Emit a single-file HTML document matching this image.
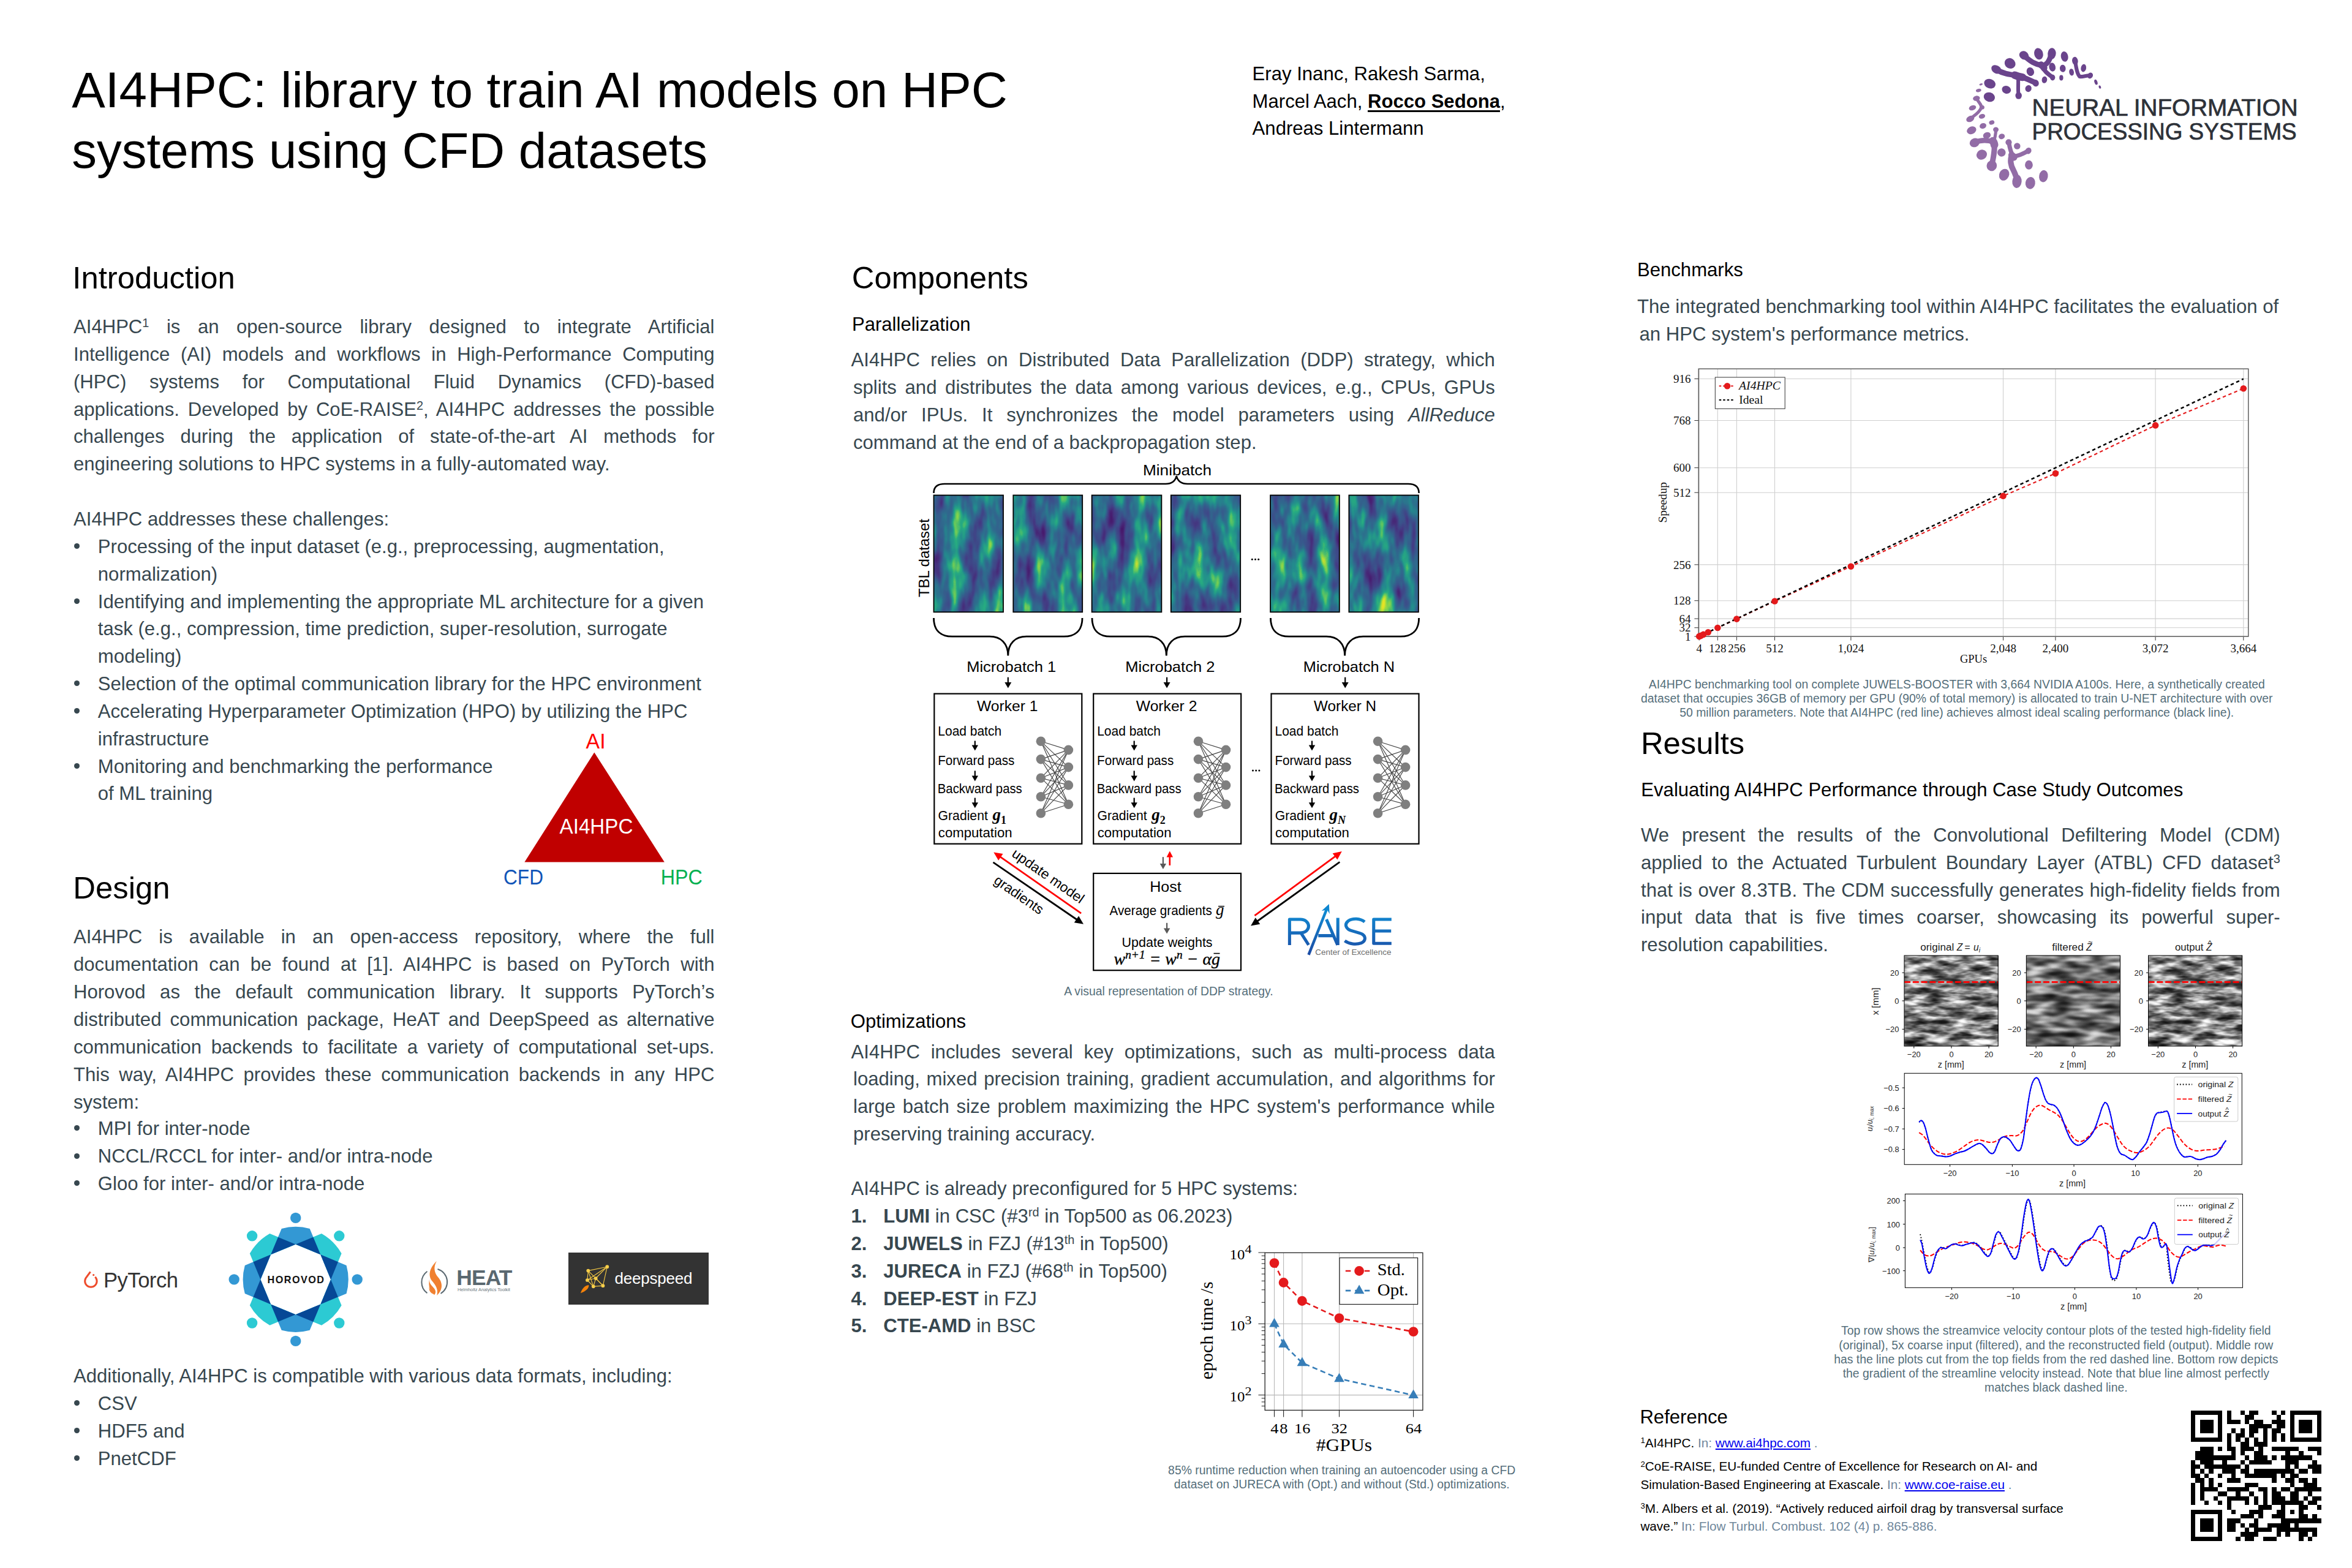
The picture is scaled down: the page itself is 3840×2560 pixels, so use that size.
<!DOCTYPE html>
<html><head><meta charset="utf-8"><title>AI4HPC poster</title>
<style>
html,body{margin:0;padding:0;background:#fff;}
body{width:3840px;height:2560px;position:relative;overflow:hidden;font-family:"Liberation Sans",sans-serif;}
body>div,body>svg{position:absolute;white-space:nowrap;}
body>svg{overflow:visible;}
sup{font-size:64%;vertical-align:baseline;position:relative;top:-0.48em;line-height:0;}
b{font-weight:bold;}
</style></head><body>
<div style="left:117.3px;top:97.9px;font-size:81.8px;line-height:98.16px;color:#000;">AI4HPC: library to train AI models on HPC</div>
<div style="left:117.3px;top:196.5px;font-size:81.55px;line-height:97.86px;color:#000;">systems using CFD datasets</div>
<div style="left:2044.6px;top:101.5px;font-size:31.1px;line-height:37.32px;color:#000;">Eray Inanc, Rakesh Sarma,</div>
<div style="left:2044.6px;top:146.5px;font-size:31.1px;line-height:37.32px;color:#000;">Marcel Aach, <b style="text-decoration:underline;text-decoration-thickness:3px;text-underline-offset:3.5px">Rocco Sedona</b>,</div>
<div style="left:2044.6px;top:191.3px;font-size:31.1px;line-height:37.32px;color:#000;">Andreas Lintermann</div>
<div style="left:118.3px;top:424.0px;font-size:50.8px;line-height:60.96px;color:#000;">Introduction</div>
<div style="left:120.0px;top:515.0px;font-size:31.1px;line-height:37.32px;color:#37474f;width:1046.5px;text-align:justify;text-align-last:justify;white-space:normal;">AI4HPC<sup>1</sup> is an open-source library designed to integrate Artificial</div>
<div style="left:120.0px;top:559.8px;font-size:31.1px;line-height:37.32px;color:#37474f;width:1046.5px;text-align:justify;text-align-last:justify;white-space:normal;">Intelligence (AI) models and workflows in High-Performance Computing</div>
<div style="left:120.0px;top:604.7px;font-size:31.1px;line-height:37.32px;color:#37474f;width:1046.5px;text-align:justify;text-align-last:justify;white-space:normal;">(HPC) systems for Computational Fluid Dynamics (CFD)-based</div>
<div style="left:120.0px;top:649.5px;font-size:31.1px;line-height:37.32px;color:#37474f;width:1046.5px;text-align:justify;text-align-last:justify;white-space:normal;">applications. Developed by CoE-RAISE<sup>2</sup>, AI4HPC addresses the possible</div>
<div style="left:120.0px;top:694.4px;font-size:31.1px;line-height:37.32px;color:#37474f;width:1046.5px;text-align:justify;text-align-last:justify;white-space:normal;">challenges during the application of state-of-the-art AI methods for</div>
<div style="left:120.0px;top:739.2px;font-size:31.1px;line-height:37.32px;color:#37474f;">engineering solutions to HPC systems in a fully-automated way.</div>
<div style="left:120.0px;top:828.9px;font-size:31.1px;line-height:37.32px;color:#37474f;">AI4HPC addresses these challenges:</div>
<div style="left:121.4px;top:887.2px;width:9.1px;height:9.1px;border-radius:50%;background:#37474f"></div>
<div style="left:159.8px;top:873.8px;font-size:31.1px;line-height:37.32px;color:#37474f;">Processing of the input dataset (e.g., preprocessing, augmentation,</div>
<div style="left:159.8px;top:918.6px;font-size:31.1px;line-height:37.32px;color:#37474f;">normalization)</div>
<div style="left:121.4px;top:976.9px;width:9.1px;height:9.1px;border-radius:50%;background:#37474f"></div>
<div style="left:159.8px;top:963.5px;font-size:31.1px;line-height:37.32px;color:#37474f;">Identifying and implementing the appropriate ML architecture for a given</div>
<div style="left:159.8px;top:1008.3px;font-size:31.1px;line-height:37.32px;color:#37474f;">task (e.g., compression, time prediction, super-resolution, surrogate</div>
<div style="left:159.8px;top:1053.2px;font-size:31.1px;line-height:37.32px;color:#37474f;">modeling)</div>
<div style="left:121.4px;top:1111.4px;width:9.1px;height:9.1px;border-radius:50%;background:#37474f"></div>
<div style="left:159.8px;top:1098.0px;font-size:31.1px;line-height:37.32px;color:#37474f;">Selection of the optimal communication library for the HPC environment</div>
<div style="left:121.4px;top:1156.2px;width:9.1px;height:9.1px;border-radius:50%;background:#37474f"></div>
<div style="left:159.8px;top:1142.9px;font-size:31.1px;line-height:37.32px;color:#37474f;">Accelerating Hyperparameter Optimization (HPO) by utilizing the HPC</div>
<div style="left:159.8px;top:1187.7px;font-size:31.1px;line-height:37.32px;color:#37474f;">infrastructure</div>
<div style="left:121.4px;top:1246.0px;width:9.1px;height:9.1px;border-radius:50%;background:#37474f"></div>
<div style="left:159.8px;top:1232.6px;font-size:31.1px;line-height:37.32px;color:#37474f;">Monitoring and benchmarking the performance</div>
<div style="left:159.8px;top:1277.4px;font-size:31.1px;line-height:37.32px;color:#37474f;">of ML training</div>
<svg style="left:800px;top:1180px" width="380" height="290" viewBox="800 1180 380 290" font-family="Liberation Sans, sans-serif" font-size="35.2"><polygon points="970.3,1228.4 856.4,1407.4 1084.8,1407.4" fill="#c00000"/><text x="956.6" y="1222.2" fill="#ff0000" textLength="32" lengthAdjust="spacingAndGlyphs">AI</text><text x="913.5" y="1360.8" fill="#fff" textLength="120" lengthAdjust="spacingAndGlyphs">AI4HPC</text><text x="822.0" y="1444.1" fill="#1155b8" textLength="65" lengthAdjust="spacingAndGlyphs">CFD</text><text x="1078.7" y="1444.1" fill="#00b050" textLength="68.2" lengthAdjust="spacingAndGlyphs">HPC</text></svg>
<div style="left:119.3px;top:1419.8px;font-size:50.8px;line-height:60.96px;color:#000;">Design</div>
<div style="left:120.0px;top:1511.2px;font-size:31.1px;line-height:37.32px;color:#37474f;width:1046.5px;text-align:justify;text-align-last:justify;white-space:normal;">AI4HPC is available in an open-access repository, where the full</div>
<div style="left:120.0px;top:1556.1px;font-size:31.1px;line-height:37.32px;color:#37474f;width:1046.5px;text-align:justify;text-align-last:justify;white-space:normal;">documentation can be found at [1]. AI4HPC is based on PyTorch with</div>
<div style="left:120.0px;top:1601.0px;font-size:31.1px;line-height:37.32px;color:#37474f;width:1046.5px;text-align:justify;text-align-last:justify;white-space:normal;">Horovod as the default communication library. It supports PyTorch&rsquo;s</div>
<div style="left:120.0px;top:1645.9px;font-size:31.1px;line-height:37.32px;color:#37474f;width:1046.5px;text-align:justify;text-align-last:justify;white-space:normal;">distributed communication package, HeAT and DeepSpeed as alternative</div>
<div style="left:120.0px;top:1690.8px;font-size:31.1px;line-height:37.32px;color:#37474f;width:1046.5px;text-align:justify;text-align-last:justify;white-space:normal;">communication backends to facilitate a variety of computational set-ups.</div>
<div style="left:120.0px;top:1735.7px;font-size:31.1px;line-height:37.32px;color:#37474f;width:1046.5px;text-align:justify;text-align-last:justify;white-space:normal;">This way, AI4HPC provides these communication backends in any HPC</div>
<div style="left:120.0px;top:1780.6px;font-size:31.1px;line-height:37.32px;color:#37474f;">system:</div>
<div style="left:121.4px;top:1837.4px;width:9.1px;height:9.1px;border-radius:50%;background:#37474f"></div>
<div style="left:159.8px;top:1824.0px;font-size:31.1px;line-height:37.32px;color:#37474f;">MPI for inter-node</div>
<div style="left:121.4px;top:1882.5px;width:9.1px;height:9.1px;border-radius:50%;background:#37474f"></div>
<div style="left:159.8px;top:1869.1px;font-size:31.1px;line-height:37.32px;color:#37474f;">NCCL/RCCL for inter- and/or intra-node</div>
<div style="left:121.4px;top:1927.4px;width:9.1px;height:9.1px;border-radius:50%;background:#37474f"></div>
<div style="left:159.8px;top:1914.0px;font-size:31.1px;line-height:37.32px;color:#37474f;">Gloo for inter- and/or intra-node</div>
<div style="left:120.0px;top:2227.9px;font-size:31.1px;line-height:37.32px;color:#37474f;">Additionally, AI4HPC is compatible with various data formats, including:</div>
<div style="left:121.4px;top:2286.2px;width:9.1px;height:9.1px;border-radius:50%;background:#37474f"></div>
<div style="left:159.8px;top:2272.9px;font-size:31.1px;line-height:37.32px;color:#37474f;">CSV</div>
<div style="left:121.4px;top:2331.2px;width:9.1px;height:9.1px;border-radius:50%;background:#37474f"></div>
<div style="left:159.8px;top:2317.9px;font-size:31.1px;line-height:37.32px;color:#37474f;">HDF5 and</div>
<div style="left:121.4px;top:2376.2px;width:9.1px;height:9.1px;border-radius:50%;background:#37474f"></div>
<div style="left:159.8px;top:2362.9px;font-size:31.1px;line-height:37.32px;color:#37474f;">PnetCDF</div>
<svg style="left:3200px;top:70px" width="240" height="250" viewBox="0 0 1505 1568"><g fill="#6a448c" stroke="#6a448c"><ellipse cx="805" cy="112" rx="45" ry="60" transform="rotate(-15 805 112)" stroke="none"/><ellipse cx="1070" cy="140" rx="37" ry="53" transform="rotate(-10 1070 140)" stroke="none"/><ellipse cx="512" cy="210" rx="58" ry="52" transform="rotate(35 512 210)" stroke="none"/><ellipse cx="945" cy="248" rx="33" ry="45" transform="rotate(-10 945 248)" stroke="none"/><ellipse cx="1052" cy="262" rx="30" ry="38" transform="rotate(-5 1052 262)" stroke="none"/><ellipse cx="1265" cy="258" rx="27" ry="40" transform="rotate(10 1265 258)" stroke="none"/><ellipse cx="1142" cy="300" rx="24" ry="36" transform="rotate(-10 1142 300)" stroke="none"/><ellipse cx="720" cy="295" rx="38" ry="45" transform="rotate(-20 720 295)" stroke="none"/><ellipse cx="1037" cy="358" rx="20" ry="28" transform="rotate(0 1037 358)" stroke="none"/><ellipse cx="865" cy="378" rx="27" ry="35" transform="rotate(10 865 378)" stroke="none"/><ellipse cx="305" cy="418" rx="60" ry="48" transform="rotate(20 305 418)" stroke="none"/><ellipse cx="700" cy="468" rx="32" ry="35" transform="rotate(20 700 468)" stroke="none"/><ellipse cx="475" cy="480" rx="47" ry="40" transform="rotate(20 475 480)" stroke="none"/><ellipse cx="300" cy="555" rx="58" ry="48" transform="rotate(15 300 555)" stroke="none"/><ellipse cx="1392" cy="402" rx="15" ry="28" transform="rotate(-20 1392 402)" stroke="none"/><ellipse cx="1432" cy="452" rx="11" ry="17" transform="rotate(-20 1432 452)" stroke="none"/><ellipse cx="655" cy="128" rx="50" ry="42" transform="rotate(30 655 128)" stroke="none"/><ellipse cx="940" cy="110" rx="42" ry="58" transform="rotate(5 940 110)" stroke="none"/><ellipse cx="948" cy="355" rx="26" ry="30" transform="rotate(0 948 355)" stroke="none"/><ellipse cx="372" cy="272" rx="55" ry="40" transform="rotate(30 372 272)" stroke="none"/><ellipse cx="775" cy="412" rx="32" ry="36" transform="rotate(-20 775 412)" stroke="none"/><ellipse cx="600" cy="540" rx="33" ry="36" transform="rotate(0 600 540)" stroke="none"/><ellipse cx="1178" cy="185" rx="30" ry="42" transform="rotate(-10 1178 185)" stroke="none"/><ellipse cx="1333" cy="335" rx="27" ry="32" transform="rotate(30 1333 335)" stroke="none"/><path d="M655,130 C720,190 760,215 840,230 C900,230 915,170 935,120" fill="none" stroke-width="54" stroke-linecap="round"/><path d="M840,235 C860,290 900,320 945,350" fill="none" stroke-width="44" stroke-linecap="round"/><path d="M375,275 C450,320 520,325 590,335 C650,350 720,385 775,410" fill="none" stroke-width="56" stroke-linecap="round"/><path d="M595,345 C600,420 590,480 600,540" fill="none" stroke-width="38" stroke-linecap="round"/><path d="M1180,190 C1190,260 1200,320 1225,345 C1260,350 1300,330 1335,335" fill="none" stroke-width="38" stroke-linecap="round"/><path d="M560,330 C590,345 620,350 640,352" fill="none" stroke-width="78" stroke-linecap="round"/><path d="M830,225 C845,235 855,245 860,255" fill="none" stroke-width="70" stroke-linecap="round"/></g><g fill="#926ca6" stroke="#926ca6"><ellipse cx="215" cy="425" rx="18" ry="10" transform="rotate(-15 215 425)" stroke="none"/><ellipse cx="190" cy="487" rx="28" ry="17" transform="rotate(-15 190 487)" stroke="none"/><ellipse cx="128" cy="665" rx="38" ry="25" transform="rotate(-20 128 665)" stroke="none"/><ellipse cx="225" cy="752" rx="33" ry="24" transform="rotate(-15 225 752)" stroke="none"/><ellipse cx="325" cy="815" rx="28" ry="22" transform="rotate(-20 325 815)" stroke="none"/><ellipse cx="235" cy="850" rx="35" ry="28" transform="rotate(-20 235 850)" stroke="none"/><ellipse cx="118" cy="895" rx="50" ry="38" transform="rotate(-25 118 895)" stroke="none"/><ellipse cx="275" cy="948" rx="40" ry="33" transform="rotate(-20 275 948)" stroke="none"/><ellipse cx="427" cy="958" rx="32" ry="28" transform="rotate(-15 427 958)" stroke="none"/><ellipse cx="585" cy="1057" rx="33" ry="33" transform="rotate(0 585 1057)" stroke="none"/><ellipse cx="425" cy="1123" rx="42" ry="42" transform="rotate(-20 425 1123)" stroke="none"/><ellipse cx="222" cy="1145" rx="55" ry="50" transform="rotate(-35 222 1145)" stroke="none"/><ellipse cx="705" cy="1250" rx="40" ry="47" transform="rotate(0 705 1250)" stroke="none"/><ellipse cx="452" cy="1350" rx="50" ry="62" transform="rotate(25 452 1350)" stroke="none"/><ellipse cx="855" cy="1365" rx="45" ry="62" transform="rotate(10 855 1365)" stroke="none"/><ellipse cx="720" cy="1435" rx="50" ry="62" transform="rotate(10 720 1435)" stroke="none"/><ellipse cx="168" cy="568" rx="36" ry="26" transform="rotate(-10 168 568)" stroke="none"/><ellipse cx="105" cy="778" rx="43" ry="30" transform="rotate(-25 105 778)" stroke="none"/><ellipse cx="225" cy="660" rx="25" ry="22" transform="rotate(0 225 660)" stroke="none"/><ellipse cx="150" cy="1022" rx="52" ry="45" transform="rotate(-25 150 1022)" stroke="none"/><ellipse cx="367" cy="888" rx="28" ry="26" transform="rotate(0 367 888)" stroke="none"/><ellipse cx="325" cy="1258" rx="52" ry="55" transform="rotate(20 325 1258)" stroke="none"/><ellipse cx="498" cy="1018" rx="32" ry="32" transform="rotate(0 498 1018)" stroke="none"/><ellipse cx="700" cy="1105" rx="30" ry="34" transform="rotate(30 700 1105)" stroke="none"/><ellipse cx="583" cy="1418" rx="48" ry="68" transform="rotate(5 583 1418)" stroke="none"/><path d="M170,570 C190,610 230,640 215,670 C190,720 150,740 108,775" fill="none" stroke-width="32" stroke-linecap="round"/><path d="M150,1020 C230,985 300,1000 345,1015" fill="none" stroke-width="52" stroke-linecap="round"/><path d="M345,1015 C360,970 365,930 368,890" fill="none" stroke-width="32" stroke-linecap="round"/><path d="M345,1015 C365,1080 340,1180 325,1255" fill="none" stroke-width="56" stroke-linecap="round"/><path d="M500,1020 C510,1080 520,1130 545,1160 C600,1165 660,1125 700,1105" fill="none" stroke-width="44" stroke-linecap="round"/><path d="M530,1150 C510,1200 520,1260 545,1300 C565,1340 580,1380 585,1420" fill="none" stroke-width="58" stroke-linecap="round"/><path d="M335,1005 C345,1015 350,1030 352,1045" fill="none" stroke-width="80" stroke-linecap="round"/><path d="M530,1150 C540,1158 548,1165 552,1172" fill="none" stroke-width="70" stroke-linecap="round"/></g></svg>
<svg style="left:3300px;top:150px" width="480" height="90" viewBox="3300 150 480 90" font-family="Liberation Sans, sans-serif" fill="#2d3138" stroke="#2d3138" stroke-width="0.7"><text x="3317.6" y="188.7" font-size="39.6" textLength="434.0" lengthAdjust="spacingAndGlyphs">NEURAL INFORMATION</text><text x="3317.6" y="227.6" font-size="39.6" textLength="432.1" lengthAdjust="spacingAndGlyphs">PROCESSING SYSTEMS</text></svg>
<svg style="left:130px;top:2070px" width="40" height="40" viewBox="130 2070 40 40"><path d="M147.6,2076.3 L141.5,2084.7 A9.75,9.75 0 1 0 155.3,2084.7" fill="none" stroke="#ee4c2c" stroke-width="3.0" stroke-linejoin="miter"/><circle cx="152.7" cy="2081.6" r="1.6" fill="#ee4c2c"/></svg>
<div style="left:169.0px;top:2069.9px;font-size:34.6px;line-height:41.52px;color:#333;letter-spacing:-0.5px;">PyTorch</div>
<svg style="left:370px;top:1976px" width="226" height="226" viewBox="370 1976 226 226"><path d="M459.7,2006.0 A86.0,86.0 0 0 1 505.7,2006.0 L523.3,2048.3 L482.7,2031.5 L442.1,2048.3 Z" fill="#3398d4"/><path d="M525.0,2014.0 A86.0,86.0 0 0 1 557.6,2046.6 L540.1,2088.9 L523.3,2048.3 L482.7,2031.5 Z" fill="#2ccad3"/><path d="M565.6,2065.9 A86.0,86.0 0 0 1 565.6,2111.9 L523.3,2129.5 L540.1,2088.9 L523.3,2048.3 Z" fill="#3398d4"/><path d="M557.6,2131.2 A86.0,86.0 0 0 1 525.0,2163.8 L482.7,2146.3 L523.3,2129.5 L540.1,2088.9 Z" fill="#2ccad3"/><path d="M505.7,2171.8 A86.0,86.0 0 0 1 459.7,2171.8 L442.1,2129.5 L482.7,2146.3 L523.3,2129.5 Z" fill="#3398d4"/><path d="M440.4,2163.8 A86.0,86.0 0 0 1 407.8,2131.2 L425.3,2088.9 L442.1,2129.5 L482.7,2146.3 Z" fill="#2ccad3"/><path d="M399.8,2111.9 A86.0,86.0 0 0 1 399.8,2065.9 L442.1,2048.3 L425.3,2088.9 L442.1,2129.5 Z" fill="#3398d4"/><path d="M407.8,2046.6 A86.0,86.0 0 0 1 440.4,2014.0 L482.7,2031.5 L442.1,2048.3 L425.3,2088.9 Z" fill="#2ccad3"/><polygon points="482.7,2031.5 511.4,2019.7 523.3,2048.3" fill="#064896"/><polygon points="523.3,2048.3 551.9,2060.2 540.1,2088.9" fill="#064896"/><polygon points="540.1,2088.9 551.9,2117.6 523.3,2129.5" fill="#064896"/><polygon points="523.3,2129.5 511.4,2158.1 482.7,2146.3" fill="#064896"/><polygon points="482.7,2146.3 454.0,2158.1 442.1,2129.5" fill="#064896"/><polygon points="442.1,2129.5 413.5,2117.6 425.3,2088.9" fill="#064896"/><polygon points="425.3,2088.9 413.5,2060.2 442.1,2048.3" fill="#064896"/><polygon points="442.1,2048.3 454.0,2019.7 482.7,2031.5" fill="#064896"/><circle cx="482.7" cy="1988.4" r="8.7" fill="#3398d4"/><circle cx="553.8" cy="2017.8" r="8.7" fill="#2ccad3"/><circle cx="583.2" cy="2088.9" r="8.7" fill="#3398d4"/><circle cx="553.8" cy="2160.0" r="8.7" fill="#2ccad3"/><circle cx="482.7" cy="2189.4" r="8.7" fill="#3398d4"/><circle cx="411.6" cy="2160.0" r="8.7" fill="#2ccad3"/><circle cx="382.2" cy="2088.9" r="8.7" fill="#3398d4"/><circle cx="411.6" cy="2017.8" r="8.7" fill="#2ccad3"/></svg>
<div style="left:383.5px;top:2079.9px;font-size:16.2px;line-height:19.44px;color:#111;width:200.0px;text-align:center;font-weight:bold;letter-spacing:1.45px;">HOROVOD</div>
<svg style="left:660px;top:2020px" width="540" height="140" viewBox="0 0 2352 610"><path d="M160,245 A95,95 0 0 0 160,395" fill="none" stroke="#5d6b73" stroke-width="9" stroke-linecap="round"/><path d="M240,228 A95,95 0 0 1 262,398" fill="none" stroke="#5d6b73" stroke-width="9" stroke-linecap="round"/><path d="M230,170 C185,212 163,268 198,312 C226,345 242,372 232,414 C278,372 272,322 242,287 C214,255 204,215 230,170 Z" fill="#f08030"/><path d="M180,292 C172,330 198,345 214,366 C228,386 222,400 214,410 C186,392 166,350 180,292 Z" fill="#f08030"/><path d="M178,350 C176,372 196,384 204,404 C186,396 172,378 178,350 Z" fill="#f08030"/></svg>
<div style="left:745.3px;top:2065.0px;font-size:35.4px;line-height:42.48px;color:#5a6870;font-weight:bold;letter-spacing:-0.9px;">HEAT</div>
<div style="left:747.0px;top:2102.2px;font-size:7.35px;line-height:8.82px;color:#6a767d;letter-spacing:-0.02px;">Helmholtz Analytics Toolkit</div>
<div style="left:928.2px;top:2044.8px;width:228.9px;height:84.9px;background:#333"></div>
<svg style="left:660px;top:2020px" width="540" height="140" viewBox="0 0 2352 610"><line x1="1308" y1="238" x2="1443" y2="210" stroke="#f2c744" stroke-width="5"/><line x1="1308" y1="238" x2="1302" y2="305" stroke="#f2c744" stroke-width="5"/><line x1="1308" y1="238" x2="1345" y2="350" stroke="#f2c744" stroke-width="5"/><line x1="1443" y1="210" x2="1413" y2="345" stroke="#f2c744" stroke-width="5"/><line x1="1443" y1="210" x2="1362" y2="292" stroke="#f2c744" stroke-width="5"/><line x1="1302" y1="305" x2="1362" y2="292" stroke="#f2c744" stroke-width="5"/><line x1="1302" y1="305" x2="1345" y2="350" stroke="#f2c744" stroke-width="5"/><line x1="1345" y1="350" x2="1413" y2="345" stroke="#f2c744" stroke-width="5"/><line x1="1362" y1="292" x2="1345" y2="350" stroke="#f2c744" stroke-width="5"/><line x1="1308" y1="238" x2="1413" y2="345" stroke="#f2c744" stroke-width="5"/><line x1="1362" y1="292" x2="1413" y2="345" stroke="#f2c744" stroke-width="5"/><line x1="1302" y1="305" x2="1443" y2="210" stroke="#f2c744" stroke-width="5"/><circle cx="1308" cy="238" r="12.5" fill="#f7ce4a"/><circle cx="1443" cy="210" r="12.5" fill="#f7ce4a"/><circle cx="1302" cy="305" r="12.5" fill="#f7ce4a"/><circle cx="1362" cy="292" r="12.5" fill="#f7ce4a"/><circle cx="1345" cy="350" r="12.5" fill="#f7ce4a"/><circle cx="1413" cy="345" r="12.5" fill="#f7ce4a"/><path d="M1254,398 C1262,368 1285,342 1312,340 C1316,362 1290,385 1254,398 Z" fill="#f5820a"/></svg>
<div style="left:1003.4px;top:2072.3px;font-size:26.0px;line-height:31.2px;color:#fff;letter-spacing:-0.2px;">deepspeed</div>
<div style="left:1390.8px;top:424.0px;font-size:50.8px;line-height:60.96px;color:#000;">Components</div>
<div style="left:1390.9px;top:510.8px;font-size:31.1px;line-height:37.32px;color:#000;">Parallelization</div>
<div style="left:1389.6px;top:569.4px;font-size:31.1px;line-height:37.32px;color:#37474f;width:1051.2px;text-align:justify;text-align-last:justify;white-space:normal;">AI4HPC relies on Distributed Data Parallelization (DDP) strategy, which</div>
<div style="left:1393.0px;top:614.2px;font-size:31.1px;line-height:37.32px;color:#37474f;width:1047.8px;text-align:justify;text-align-last:justify;white-space:normal;">splits and distributes the data among various devices, e.g., CPUs, GPUs</div>
<div style="left:1393.0px;top:659.1px;font-size:31.1px;line-height:37.32px;color:#37474f;width:1047.8px;text-align:justify;text-align-last:justify;white-space:normal;">and/or IPUs. It synchronizes the model parameters using <i>AllReduce</i></div>
<div style="left:1393.0px;top:704.0px;font-size:31.1px;line-height:37.32px;color:#37474f;">command at the end of a backpropagation step.</div>
<div style="left:1307.9px;top:1606.7px;font-size:19.38px;line-height:23.26px;color:#546e7a;width:1200.0px;text-align:center;">A visual representation of DDP strategy.</div>
<div style="left:1388.8px;top:1649.4px;font-size:31.1px;line-height:37.32px;color:#000;">Optimizations</div>
<div style="left:1389.6px;top:1698.6px;font-size:31.1px;line-height:37.32px;color:#37474f;width:1051.2px;text-align:justify;text-align-last:justify;white-space:normal;">AI4HPC includes several key optimizations, such as multi-process data</div>
<div style="left:1393.0px;top:1743.4px;font-size:31.1px;line-height:37.32px;color:#37474f;width:1047.8px;text-align:justify;text-align-last:justify;white-space:normal;">loading, mixed precision training, gradient accumulation, and algorithms for</div>
<div style="left:1393.0px;top:1788.3px;font-size:31.1px;line-height:37.32px;color:#37474f;width:1047.8px;text-align:justify;text-align-last:justify;white-space:normal;">large batch size problem maximizing the HPC system's performance while</div>
<div style="left:1393.0px;top:1833.2px;font-size:31.1px;line-height:37.32px;color:#37474f;">preserving training accuracy.</div>
<div style="left:1389.6px;top:1922.0px;font-size:31.1px;line-height:37.32px;color:#37474f;">AI4HPC is already preconfigured for 5 HPC systems:</div>
<div style="left:1389.5px;top:1966.8px;font-size:31.1px;line-height:37.32px;color:#37474f;"><b>1.</b></div>
<div style="left:1442.2px;top:1966.8px;font-size:31.1px;line-height:37.32px;color:#37474f;"><b>LUMI</b> in CSC (#3<sup>rd</sup> in Top500 as 06.2023)</div>
<div style="left:1389.5px;top:2011.8px;font-size:31.1px;line-height:37.32px;color:#37474f;"><b>2.</b></div>
<div style="left:1442.2px;top:2011.8px;font-size:31.1px;line-height:37.32px;color:#37474f;"><b>JUWELS</b> in FZJ (#13<sup>th</sup> in Top500)</div>
<div style="left:1389.5px;top:2056.5px;font-size:31.1px;line-height:37.32px;color:#37474f;"><b>3.</b></div>
<div style="left:1442.2px;top:2056.5px;font-size:31.1px;line-height:37.32px;color:#37474f;"><b>JURECA</b> in FZJ (#68<sup>th</sup> in Top500)</div>
<div style="left:1389.5px;top:2101.5px;font-size:31.1px;line-height:37.32px;color:#37474f;"><b>4.</b></div>
<div style="left:1442.2px;top:2101.5px;font-size:31.1px;line-height:37.32px;color:#37474f;"><b>DEEP-EST</b> in FZJ</div>
<div style="left:1389.5px;top:2146.1px;font-size:31.1px;line-height:37.32px;color:#37474f;"><b>5.</b></div>
<div style="left:1442.2px;top:2146.1px;font-size:31.1px;line-height:37.32px;color:#37474f;"><b>CTE-AMD</b> in BSC</div>
<div style="left:1590.7px;top:2389.2px;font-size:19.38px;line-height:23.26px;color:#546e7a;width:1200.0px;text-align:center;">85% runtime reduction when training an autoencoder using a CFD</div>
<div style="left:1590.7px;top:2411.9px;font-size:19.38px;line-height:23.26px;color:#546e7a;width:1200.0px;text-align:center;">dataset on JURECA with (Opt.) and without (Std.) optimizations.</div>
<svg style="left:1480px;top:740px" width="880" height="880" viewBox="1480 740 880 880" font-family="Liberation Sans, sans-serif" fill="#000"><defs><filter id="vir0" x="0" y="0" width="1" height="1" color-interpolation-filters="sRGB"><feTurbulence type="fractalNoise" baseFrequency="0.04 0.0145" numOctaves="3" seed="3"/><feColorMatrix values="1 0 0 0 0  1 0 0 0 0  1 0 0 0 0  0 0 0 0 1"/><feComponentTransfer><feFuncR type="table" tableValues=".267 .275 .282 .263 .224 .180 .137 .153 .478 .863 .992"/><feFuncG type="table" tableValues=".004 .059 .141 .243 .337 .431 .549 .675 .820 .890 .906"/><feFuncB type="table" tableValues=".329 .384 .459 .522 .549 .557 .553 .506 .318 .157 .145"/></feComponentTransfer></filter><filter id="vir1" x="0" y="0" width="1" height="1" color-interpolation-filters="sRGB"><feTurbulence type="fractalNoise" baseFrequency="0.04 0.0145" numOctaves="3" seed="11"/><feColorMatrix values="1 0 0 0 0  1 0 0 0 0  1 0 0 0 0  0 0 0 0 1"/><feComponentTransfer><feFuncR type="table" tableValues=".267 .275 .282 .263 .224 .180 .137 .153 .478 .863 .992"/><feFuncG type="table" tableValues=".004 .059 .141 .243 .337 .431 .549 .675 .820 .890 .906"/><feFuncB type="table" tableValues=".329 .384 .459 .522 .549 .557 .553 .506 .318 .157 .145"/></feComponentTransfer></filter><filter id="vir2" x="0" y="0" width="1" height="1" color-interpolation-filters="sRGB"><feTurbulence type="fractalNoise" baseFrequency="0.04 0.0145" numOctaves="3" seed="3"/><feColorMatrix values="1 0 0 0 0  1 0 0 0 0  1 0 0 0 0  0 0 0 0 1"/><feComponentTransfer><feFuncR type="table" tableValues=".267 .275 .282 .263 .224 .180 .137 .153 .478 .863 .992"/><feFuncG type="table" tableValues=".004 .059 .141 .243 .337 .431 .549 .675 .820 .890 .906"/><feFuncB type="table" tableValues=".329 .384 .459 .522 .549 .557 .553 .506 .318 .157 .145"/></feComponentTransfer></filter><filter id="vir3" x="0" y="0" width="1" height="1" color-interpolation-filters="sRGB"><feTurbulence type="fractalNoise" baseFrequency="0.04 0.0145" numOctaves="3" seed="27"/><feColorMatrix values="1 0 0 0 0  1 0 0 0 0  1 0 0 0 0  0 0 0 0 1"/><feComponentTransfer><feFuncR type="table" tableValues=".267 .275 .282 .263 .224 .180 .137 .153 .478 .863 .992"/><feFuncG type="table" tableValues=".004 .059 .141 .243 .337 .431 .549 .675 .820 .890 .906"/><feFuncB type="table" tableValues=".329 .384 .459 .522 .549 .557 .553 .506 .318 .157 .145"/></feComponentTransfer></filter><filter id="vir4" x="0" y="0" width="1" height="1" color-interpolation-filters="sRGB"><feTurbulence type="fractalNoise" baseFrequency="0.04 0.0145" numOctaves="3" seed="5"/><feColorMatrix values="1 0 0 0 0  1 0 0 0 0  1 0 0 0 0  0 0 0 0 1"/><feComponentTransfer><feFuncR type="table" tableValues=".267 .275 .282 .263 .224 .180 .137 .153 .478 .863 .992"/><feFuncG type="table" tableValues=".004 .059 .141 .243 .337 .431 .549 .675 .820 .890 .906"/><feFuncB type="table" tableValues=".329 .384 .459 .522 .549 .557 .553 .506 .318 .157 .145"/></feComponentTransfer></filter><filter id="vir5" x="0" y="0" width="1" height="1" color-interpolation-filters="sRGB"><feTurbulence type="fractalNoise" baseFrequency="0.04 0.0145" numOctaves="3" seed="41"/><feColorMatrix values="1 0 0 0 0  1 0 0 0 0  1 0 0 0 0  0 0 0 0 1"/><feComponentTransfer><feFuncR type="table" tableValues=".267 .275 .282 .263 .224 .180 .137 .153 .478 .863 .992"/><feFuncG type="table" tableValues=".004 .059 .141 .243 .337 .431 .549 .675 .820 .890 .906"/><feFuncB type="table" tableValues=".329 .384 .459 .522 .549 .557 .553 .506 .318 .157 .145"/></feComponentTransfer></filter></defs><text x="1866.0" y="776.2" font-size="24.8" text-anchor="start" textLength="112.0" lengthAdjust="spacingAndGlyphs" >Minibatch</text><path d="M1524.5,805 C1524.5,794 1531,790 1542,790 L1903,790 C1913,790 1919,785 1920.8,777 C1922.6,785 1929,790 1939,790 L2299,790 C2310,790 2316.6,794 2316.6,805" fill="none" stroke="#000" stroke-width="2.6"/><rect x="1524.5" y="808.5" width="113.5" height="190.8" fill="#2f7d92" filter="url(#vir0)"/><rect x="1524.5" y="808.5" width="113.5" height="190.8" fill="none" stroke="#000" stroke-width="1.8"/><rect x="1654.3" y="808.5" width="112.9" height="190.8" fill="#2f7d92" filter="url(#vir1)"/><rect x="1654.3" y="808.5" width="112.9" height="190.8" fill="none" stroke="#000" stroke-width="1.8"/><rect x="1782.6" y="808.5" width="113.8" height="190.8" fill="#2f7d92" filter="url(#vir2)"/><rect x="1782.6" y="808.5" width="113.8" height="190.8" fill="none" stroke="#000" stroke-width="1.8"/><rect x="1911.8" y="808.5" width="113.4" height="190.8" fill="#2f7d92" filter="url(#vir3)"/><rect x="1911.8" y="808.5" width="113.4" height="190.8" fill="none" stroke="#000" stroke-width="1.8"/><rect x="2074.1" y="808.5" width="112.7" height="190.8" fill="#2f7d92" filter="url(#vir4)"/><rect x="2074.1" y="808.5" width="112.7" height="190.8" fill="none" stroke="#000" stroke-width="1.8"/><rect x="2202.4" y="808.5" width="113.5" height="190.8" fill="#2f7d92" filter="url(#vir5)"/><rect x="2202.4" y="808.5" width="113.5" height="190.8" fill="none" stroke="#000" stroke-width="1.8"/><circle cx="2044.3" cy="913.3" r="1.5"/><circle cx="2045.4999999999998" cy="1258.0" r="1.5"/><circle cx="2049.5" cy="913.3" r="1.5"/><circle cx="2050.7" cy="1258.0" r="1.5"/><circle cx="2054.7" cy="913.3" r="1.5"/><circle cx="2055.8999999999996" cy="1258.0" r="1.5"/><text transform="translate(1517.3,975.0) rotate(-90)" font-size="23.6" textLength="128.0" lengthAdjust="spacingAndGlyphs">TBL dataset</text><path d="M1524.5,1009 C1524.5,1030 1536.5,1039.2 1554.5,1039.2 L1615.8,1039.2 C1633.8,1039.2 1645.8,1050 1645.8,1070.5 C1645.8,1050 1657.8,1039.2 1675.8,1039.2 L1737.0,1039.2 C1755.0,1039.2 1767.0,1030 1767.0,1009" fill="none" stroke="#000" stroke-width="2.8"/><path d="M1783.0,1009 C1783.0,1030 1795.0,1039.2 1813.0,1039.2 L1874.3,1039.2 C1892.3,1039.2 1904.3,1050 1904.3,1070.5 C1904.3,1050 1916.3,1039.2 1934.3,1039.2 L1995.5,1039.2 C2013.5,1039.2 2025.5,1030 2025.5,1009" fill="none" stroke="#000" stroke-width="2.8"/><path d="M2074.5,1009 C2074.5,1030 2086.5,1039.2 2104.5,1039.2 L2165.6,1039.2 C2183.6,1039.2 2195.6,1050 2195.6,1070.5 C2195.6,1050 2207.6,1039.2 2225.6,1039.2 L2286.6,1039.2 C2304.6,1039.2 2316.6,1030 2316.6,1009" fill="none" stroke="#000" stroke-width="2.8"/><text x="1578.2" y="1096.6" font-size="24.8" text-anchor="start" textLength="146.0" lengthAdjust="spacingAndGlyphs" >Microbatch 1</text><text x="1837.2" y="1096.6" font-size="24.8" text-anchor="start" textLength="146.3" lengthAdjust="spacingAndGlyphs" >Microbatch 2</text><text x="2127.8" y="1096.6" font-size="24.8" text-anchor="start" textLength="149.2" lengthAdjust="spacingAndGlyphs" >Microbatch N</text><line x1="1645.8" y1="1105.7" x2="1645.8" y2="1115.1" stroke="#000" stroke-width="2.2"/><polygon points="1640.3,1114.1 1651.3,1114.1 1645.8,1123.6" fill="#000"/><line x1="1905.1" y1="1105.7" x2="1905.1" y2="1115.1" stroke="#000" stroke-width="2.2"/><polygon points="1899.6,1114.1 1910.6,1114.1 1905.1,1123.6" fill="#000"/><line x1="2196.2" y1="1105.7" x2="2196.2" y2="1115.1" stroke="#000" stroke-width="2.2"/><polygon points="2190.7,1114.1 2201.7,1114.1 2196.2,1123.6" fill="#000"/><rect x="1525.3" y="1132.6" width="241.0" height="245.1" fill="none" stroke="#000" stroke-width="2.2"/><text x="1594.9" y="1160.5" font-size="24.8" text-anchor="start" textLength="99.6" lengthAdjust="spacingAndGlyphs" >Worker 1</text><text x="1531.3" y="1200.5" font-size="22.6" text-anchor="start" textLength="103.8" lengthAdjust="spacingAndGlyphs" >Load batch</text><text x="1531.2" y="1248.7" font-size="22.6" text-anchor="start" textLength="125.2" lengthAdjust="spacingAndGlyphs" >Forward pass</text><text x="1530.8" y="1294.8" font-size="22.6" text-anchor="start" textLength="138.0" lengthAdjust="spacingAndGlyphs" >Backward pass</text><text x="1531.6" y="1339.0" font-size="22.6" text-anchor="start" textLength="81.2" lengthAdjust="spacingAndGlyphs" >Gradient</text><text x="1620.4" y="1338.6" font-family="Liberation Serif, serif" font-style="italic" font-weight="bold" font-size="27">g<tspan font-size="18" dy="6" font-style="normal">1</tspan></text><text x="1531.8" y="1367.0" font-size="22.6" text-anchor="start" textLength="120.8" lengthAdjust="spacingAndGlyphs" >computation</text><line x1="1591.8" y1="1209.5" x2="1591.8" y2="1217.4" stroke="#000" stroke-width="2.2"/><polygon points="1586.6,1216.4 1597.0,1216.4 1591.8,1225.4" fill="#000"/><line x1="1591.8" y1="1258.4" x2="1591.8" y2="1267.4" stroke="#000" stroke-width="2.2"/><polygon points="1586.6,1266.4 1597.0,1266.4 1591.8,1275.4" fill="#000"/><line x1="1591.8" y1="1302.6" x2="1591.8" y2="1311.2" stroke="#000" stroke-width="2.2"/><polygon points="1586.6,1310.2 1597.0,1310.2 1591.8,1319.2" fill="#000"/><line x1="1699.4" y1="1210.3" x2="1744.4" y2="1224.4" stroke="#444" stroke-width="1.15"/><line x1="1699.4" y1="1210.3" x2="1744.4" y2="1252.6" stroke="#444" stroke-width="1.15"/><line x1="1699.4" y1="1210.3" x2="1744.4" y2="1281.9" stroke="#444" stroke-width="1.15"/><line x1="1699.4" y1="1210.3" x2="1744.4" y2="1313.2" stroke="#444" stroke-width="1.15"/><line x1="1699.4" y1="1239.6" x2="1744.4" y2="1224.4" stroke="#444" stroke-width="1.15"/><line x1="1699.4" y1="1239.6" x2="1744.4" y2="1252.6" stroke="#444" stroke-width="1.15"/><line x1="1699.4" y1="1239.6" x2="1744.4" y2="1281.9" stroke="#444" stroke-width="1.15"/><line x1="1699.4" y1="1239.6" x2="1744.4" y2="1313.2" stroke="#444" stroke-width="1.15"/><line x1="1699.4" y1="1270.2" x2="1744.4" y2="1224.4" stroke="#444" stroke-width="1.15"/><line x1="1699.4" y1="1270.2" x2="1744.4" y2="1252.6" stroke="#444" stroke-width="1.15"/><line x1="1699.4" y1="1270.2" x2="1744.4" y2="1281.9" stroke="#444" stroke-width="1.15"/><line x1="1699.4" y1="1270.2" x2="1744.4" y2="1313.2" stroke="#444" stroke-width="1.15"/><line x1="1699.4" y1="1300.7" x2="1744.4" y2="1224.4" stroke="#444" stroke-width="1.15"/><line x1="1699.4" y1="1300.7" x2="1744.4" y2="1252.6" stroke="#444" stroke-width="1.15"/><line x1="1699.4" y1="1300.7" x2="1744.4" y2="1281.9" stroke="#444" stroke-width="1.15"/><line x1="1699.4" y1="1300.7" x2="1744.4" y2="1313.2" stroke="#444" stroke-width="1.15"/><line x1="1699.4" y1="1327.7" x2="1744.4" y2="1224.4" stroke="#444" stroke-width="1.15"/><line x1="1699.4" y1="1327.7" x2="1744.4" y2="1252.6" stroke="#444" stroke-width="1.15"/><line x1="1699.4" y1="1327.7" x2="1744.4" y2="1281.9" stroke="#444" stroke-width="1.15"/><line x1="1699.4" y1="1327.7" x2="1744.4" y2="1313.2" stroke="#444" stroke-width="1.15"/><circle cx="1699.4" cy="1210.3" r="7.8" fill="#7f7f7f"/><circle cx="1699.4" cy="1239.6" r="7.8" fill="#7f7f7f"/><circle cx="1699.4" cy="1270.2" r="7.8" fill="#7f7f7f"/><circle cx="1699.4" cy="1300.7" r="7.8" fill="#7f7f7f"/><circle cx="1699.4" cy="1327.7" r="7.8" fill="#7f7f7f"/><circle cx="1744.4" cy="1224.4" r="7.8" fill="#7f7f7f"/><circle cx="1744.4" cy="1252.6" r="7.8" fill="#7f7f7f"/><circle cx="1744.4" cy="1281.9" r="7.8" fill="#7f7f7f"/><circle cx="1744.4" cy="1313.2" r="7.8" fill="#7f7f7f"/><rect x="1785.2" y="1132.6" width="241.0" height="245.1" fill="none" stroke="#000" stroke-width="2.2"/><text x="1854.8" y="1160.5" font-size="24.8" text-anchor="start" textLength="99.6" lengthAdjust="spacingAndGlyphs" >Worker 2</text><text x="1791.2" y="1200.5" font-size="22.6" text-anchor="start" textLength="103.8" lengthAdjust="spacingAndGlyphs" >Load batch</text><text x="1791.1" y="1248.7" font-size="22.6" text-anchor="start" textLength="125.2" lengthAdjust="spacingAndGlyphs" >Forward pass</text><text x="1790.7" y="1294.8" font-size="22.6" text-anchor="start" textLength="138.0" lengthAdjust="spacingAndGlyphs" >Backward pass</text><text x="1791.5" y="1339.0" font-size="22.6" text-anchor="start" textLength="81.2" lengthAdjust="spacingAndGlyphs" >Gradient</text><text x="1880.3" y="1338.6" font-family="Liberation Serif, serif" font-style="italic" font-weight="bold" font-size="27">g<tspan font-size="18" dy="6" font-style="normal">2</tspan></text><text x="1791.7" y="1367.0" font-size="22.6" text-anchor="start" textLength="120.8" lengthAdjust="spacingAndGlyphs" >computation</text><line x1="1851.6999999999998" y1="1209.5" x2="1851.6999999999998" y2="1217.4" stroke="#000" stroke-width="2.2"/><polygon points="1846.4999999999998,1216.4 1856.8999999999999,1216.4 1851.6999999999998,1225.4" fill="#000"/><line x1="1851.6999999999998" y1="1258.4" x2="1851.6999999999998" y2="1267.4" stroke="#000" stroke-width="2.2"/><polygon points="1846.4999999999998,1266.4 1856.8999999999999,1266.4 1851.6999999999998,1275.4" fill="#000"/><line x1="1851.6999999999998" y1="1302.6" x2="1851.6999999999998" y2="1311.2" stroke="#000" stroke-width="2.2"/><polygon points="1846.4999999999998,1310.2 1856.8999999999999,1310.2 1851.6999999999998,1319.2" fill="#000"/><line x1="1956.5" y1="1210.3" x2="2001.5" y2="1224.4" stroke="#444" stroke-width="1.15"/><line x1="1956.5" y1="1210.3" x2="2001.5" y2="1252.6" stroke="#444" stroke-width="1.15"/><line x1="1956.5" y1="1210.3" x2="2001.5" y2="1281.9" stroke="#444" stroke-width="1.15"/><line x1="1956.5" y1="1210.3" x2="2001.5" y2="1313.2" stroke="#444" stroke-width="1.15"/><line x1="1956.5" y1="1239.6" x2="2001.5" y2="1224.4" stroke="#444" stroke-width="1.15"/><line x1="1956.5" y1="1239.6" x2="2001.5" y2="1252.6" stroke="#444" stroke-width="1.15"/><line x1="1956.5" y1="1239.6" x2="2001.5" y2="1281.9" stroke="#444" stroke-width="1.15"/><line x1="1956.5" y1="1239.6" x2="2001.5" y2="1313.2" stroke="#444" stroke-width="1.15"/><line x1="1956.5" y1="1270.2" x2="2001.5" y2="1224.4" stroke="#444" stroke-width="1.15"/><line x1="1956.5" y1="1270.2" x2="2001.5" y2="1252.6" stroke="#444" stroke-width="1.15"/><line x1="1956.5" y1="1270.2" x2="2001.5" y2="1281.9" stroke="#444" stroke-width="1.15"/><line x1="1956.5" y1="1270.2" x2="2001.5" y2="1313.2" stroke="#444" stroke-width="1.15"/><line x1="1956.5" y1="1300.7" x2="2001.5" y2="1224.4" stroke="#444" stroke-width="1.15"/><line x1="1956.5" y1="1300.7" x2="2001.5" y2="1252.6" stroke="#444" stroke-width="1.15"/><line x1="1956.5" y1="1300.7" x2="2001.5" y2="1281.9" stroke="#444" stroke-width="1.15"/><line x1="1956.5" y1="1300.7" x2="2001.5" y2="1313.2" stroke="#444" stroke-width="1.15"/><line x1="1956.5" y1="1327.7" x2="2001.5" y2="1224.4" stroke="#444" stroke-width="1.15"/><line x1="1956.5" y1="1327.7" x2="2001.5" y2="1252.6" stroke="#444" stroke-width="1.15"/><line x1="1956.5" y1="1327.7" x2="2001.5" y2="1281.9" stroke="#444" stroke-width="1.15"/><line x1="1956.5" y1="1327.7" x2="2001.5" y2="1313.2" stroke="#444" stroke-width="1.15"/><circle cx="1956.5" cy="1210.3" r="7.8" fill="#7f7f7f"/><circle cx="1956.5" cy="1239.6" r="7.8" fill="#7f7f7f"/><circle cx="1956.5" cy="1270.2" r="7.8" fill="#7f7f7f"/><circle cx="1956.5" cy="1300.7" r="7.8" fill="#7f7f7f"/><circle cx="1956.5" cy="1327.7" r="7.8" fill="#7f7f7f"/><circle cx="2001.5" cy="1224.4" r="7.8" fill="#7f7f7f"/><circle cx="2001.5" cy="1252.6" r="7.8" fill="#7f7f7f"/><circle cx="2001.5" cy="1281.9" r="7.8" fill="#7f7f7f"/><circle cx="2001.5" cy="1313.2" r="7.8" fill="#7f7f7f"/><rect x="2075.5" y="1132.6" width="241.0" height="245.1" fill="none" stroke="#000" stroke-width="2.2"/><text x="2145.1" y="1160.5" font-size="24.8" text-anchor="start" textLength="102.0" lengthAdjust="spacingAndGlyphs" >Worker N</text><text x="2081.5" y="1200.5" font-size="22.6" text-anchor="start" textLength="103.8" lengthAdjust="spacingAndGlyphs" >Load batch</text><text x="2081.4" y="1248.7" font-size="22.6" text-anchor="start" textLength="125.2" lengthAdjust="spacingAndGlyphs" >Forward pass</text><text x="2081.0" y="1294.8" font-size="22.6" text-anchor="start" textLength="138.0" lengthAdjust="spacingAndGlyphs" >Backward pass</text><text x="2081.8" y="1339.0" font-size="22.6" text-anchor="start" textLength="81.2" lengthAdjust="spacingAndGlyphs" >Gradient</text><text x="2170.6" y="1338.6" font-family="Liberation Serif, serif" font-style="italic" font-weight="bold" font-size="27">g<tspan font-size="18" dy="6" >N</tspan></text><text x="2082.0" y="1367.0" font-size="22.6" text-anchor="start" textLength="120.8" lengthAdjust="spacingAndGlyphs" >computation</text><line x1="2142.0" y1="1209.5" x2="2142.0" y2="1217.4" stroke="#000" stroke-width="2.2"/><polygon points="2136.8,1216.4 2147.2,1216.4 2142.0,1225.4" fill="#000"/><line x1="2142.0" y1="1258.4" x2="2142.0" y2="1267.4" stroke="#000" stroke-width="2.2"/><polygon points="2136.8,1266.4 2147.2,1266.4 2142.0,1275.4" fill="#000"/><line x1="2142.0" y1="1302.6" x2="2142.0" y2="1311.2" stroke="#000" stroke-width="2.2"/><polygon points="2136.8,1310.2 2147.2,1310.2 2142.0,1319.2" fill="#000"/><line x1="2249.6" y1="1210.3" x2="2294.6" y2="1224.4" stroke="#444" stroke-width="1.15"/><line x1="2249.6" y1="1210.3" x2="2294.6" y2="1252.6" stroke="#444" stroke-width="1.15"/><line x1="2249.6" y1="1210.3" x2="2294.6" y2="1281.9" stroke="#444" stroke-width="1.15"/><line x1="2249.6" y1="1210.3" x2="2294.6" y2="1313.2" stroke="#444" stroke-width="1.15"/><line x1="2249.6" y1="1239.6" x2="2294.6" y2="1224.4" stroke="#444" stroke-width="1.15"/><line x1="2249.6" y1="1239.6" x2="2294.6" y2="1252.6" stroke="#444" stroke-width="1.15"/><line x1="2249.6" y1="1239.6" x2="2294.6" y2="1281.9" stroke="#444" stroke-width="1.15"/><line x1="2249.6" y1="1239.6" x2="2294.6" y2="1313.2" stroke="#444" stroke-width="1.15"/><line x1="2249.6" y1="1270.2" x2="2294.6" y2="1224.4" stroke="#444" stroke-width="1.15"/><line x1="2249.6" y1="1270.2" x2="2294.6" y2="1252.6" stroke="#444" stroke-width="1.15"/><line x1="2249.6" y1="1270.2" x2="2294.6" y2="1281.9" stroke="#444" stroke-width="1.15"/><line x1="2249.6" y1="1270.2" x2="2294.6" y2="1313.2" stroke="#444" stroke-width="1.15"/><line x1="2249.6" y1="1300.7" x2="2294.6" y2="1224.4" stroke="#444" stroke-width="1.15"/><line x1="2249.6" y1="1300.7" x2="2294.6" y2="1252.6" stroke="#444" stroke-width="1.15"/><line x1="2249.6" y1="1300.7" x2="2294.6" y2="1281.9" stroke="#444" stroke-width="1.15"/><line x1="2249.6" y1="1300.7" x2="2294.6" y2="1313.2" stroke="#444" stroke-width="1.15"/><line x1="2249.6" y1="1327.7" x2="2294.6" y2="1224.4" stroke="#444" stroke-width="1.15"/><line x1="2249.6" y1="1327.7" x2="2294.6" y2="1252.6" stroke="#444" stroke-width="1.15"/><line x1="2249.6" y1="1327.7" x2="2294.6" y2="1281.9" stroke="#444" stroke-width="1.15"/><line x1="2249.6" y1="1327.7" x2="2294.6" y2="1313.2" stroke="#444" stroke-width="1.15"/><circle cx="2249.6" cy="1210.3" r="7.8" fill="#7f7f7f"/><circle cx="2249.6" cy="1239.6" r="7.8" fill="#7f7f7f"/><circle cx="2249.6" cy="1270.2" r="7.8" fill="#7f7f7f"/><circle cx="2249.6" cy="1300.7" r="7.8" fill="#7f7f7f"/><circle cx="2249.6" cy="1327.7" r="7.8" fill="#7f7f7f"/><circle cx="2294.6" cy="1224.4" r="7.8" fill="#7f7f7f"/><circle cx="2294.6" cy="1252.6" r="7.8" fill="#7f7f7f"/><circle cx="2294.6" cy="1281.9" r="7.8" fill="#7f7f7f"/><circle cx="2294.6" cy="1313.2" r="7.8" fill="#7f7f7f"/><line x1="1765.1" y1="1491.2" x2="1633.0" y2="1398.8" stroke="#ff0000" stroke-width="2.8"/><polygon points="1637.5,1394.1 1630.1,1404.7 1622.3,1391.4" fill="#ff0000"/><line x1="1621.5" y1="1407.8" x2="1758.3" y2="1501.5" stroke="#000" stroke-width="2.8"/><polygon points="1753.8,1506.3 1761.1,1495.5 1769.0,1508.8" fill="#000"/><line x1="2048.4" y1="1494.8" x2="2180.3" y2="1397.8" stroke="#ff0000" stroke-width="2.8"/><polygon points="2183.4,1403.6 2175.7,1393.2 2190.8,1390.1" fill="#ff0000"/><line x1="2187.3" y1="1407.4" x2="2052.7" y2="1504.0" stroke="#000" stroke-width="2.8"/><polygon points="2049.7,1498.2 2057.3,1508.7 2042.1,1511.6" fill="#000"/><line x1="1898.9" y1="1399.2" x2="1898.9" y2="1411.0" stroke="#595959" stroke-width="2.2"/><polygon points="1893.7,1410.0 1904.1000000000001,1410.0 1898.9,1419.0" fill="#595959"/><line x1="1909.8" y1="1412.9" x2="1909.8" y2="1398.5" stroke="#ff0000" stroke-width="2.6"/><polygon points="1904.6,1399.5 1915.0,1399.5 1909.8,1389.5" fill="#ff0000"/><text transform="translate(1650.5,1397.0) rotate(34.9)" font-size="22.6" textLength="137.8" lengthAdjust="spacingAndGlyphs">update model</text><text transform="translate(1621.2,1440.7) rotate(34.9)" font-size="22.6" textLength="92.8" lengthAdjust="spacingAndGlyphs">gradients</text><rect x="1785.2" y="1425.9" width="240.8" height="158.3" fill="none" stroke="#000" stroke-width="2.2"/><text x="1877.2" y="1456.2" font-size="24.8" text-anchor="start" textLength="51.5" lengthAdjust="spacingAndGlyphs" >Host</text><text x="1811.6" y="1494.3" font-size="22.6" text-anchor="start" textLength="167.2" lengthAdjust="spacingAndGlyphs" >Average gradients</text><text x="1985.0" y="1494.3" font-family="Liberation Serif, serif" font-style="italic" font-size="27">g</text><line x1="1989" y1="1479.6" x2="1999" y2="1479.6" stroke="#000" stroke-width="1.4"/><line x1="1905.1" y1="1506.8" x2="1905.1" y2="1516.6" stroke="#595959" stroke-width="2.2"/><polygon points="1899.8999999999999,1515.6 1910.3,1515.6 1905.1,1524.6" fill="#595959"/><text x="1831.6" y="1546.2" font-size="22.6" text-anchor="start" textLength="148.0" lengthAdjust="spacingAndGlyphs" >Update weights</text><text x="1818.6" y="1574.6" font-family="Liberation Serif, serif" font-style="italic" font-size="27.5" textLength="173.5" stroke="#000" stroke-width="0.35" lengthAdjust="spacingAndGlyphs">w<tspan font-size="19" dy="-10">n+1</tspan><tspan dy="10"> = w</tspan><tspan font-size="19" dy="-10">n</tspan><tspan dy="10"> − αg</tspan></text><line x1="1981.5" y1="1556.6" x2="1991.5" y2="1556.6" stroke="#000" stroke-width="1.6"/><g transform="translate(2040,1380) scale(0.14031)"><defs><linearGradient id="rg" gradientUnits="userSpaceOnUse" x1="0" y1="690" x2="0" y2="1280"><stop offset="0" stop-color="#0a8fd6"/><stop offset="0.3" stop-color="#127fca"/><stop offset="1" stop-color="#1c4aa3"/></linearGradient></defs><g fill="none" stroke="url(#rg)" stroke-width="36" stroke-linejoin="round"><path d="M466,1162 L466,863 L590,863 C720,863 720,1020 590,1020 L466,1020 M600,1022 L688,1160"/><path d="M688,1275 L898,745" stroke-width="32"/><path d="M895,862 L1025,1160 M800,1052 L975,1052"/><path d="M1028,845 L1028,1162"/><path d="M1340,892 C1290,850 1200,845 1150,880 C1100,920 1120,975 1190,995 L1280,1022 C1360,1045 1360,1110 1300,1138 C1240,1160 1160,1150 1108,1112"/><path d="M1652,863 L1445,863 L1445,1142 L1652,1142 M1445,998 L1648,998"/></g><polygon points="925,685 840,762 905,752 932,800" fill="#0d86d0"/></g><text x="2147.3" y="1558.9" font-size="13.2" text-anchor="start" textLength="124.2" lengthAdjust="spacingAndGlyphs" fill="#6e6e6e">Center of Excellence</text></svg>
<svg style="left:1940px;top:2020px" width="420" height="370" viewBox="1940 2020 420 370" font-family="Liberation Serif, serif" fill="#000"><line x1="2080.5" y1="2045.3" x2="2080.5" y2="2302.4" stroke="#b8b8b8" stroke-width="1.1"/><line x1="2080.5" y1="2302.4" x2="2080.5" y2="2313.4" stroke="#222" stroke-width="1.1"/><line x1="2095.6" y1="2045.3" x2="2095.6" y2="2302.4" stroke="#b8b8b8" stroke-width="1.1"/><line x1="2095.6" y1="2302.4" x2="2095.6" y2="2313.4" stroke="#222" stroke-width="1.1"/><line x1="2125.9" y1="2045.3" x2="2125.9" y2="2302.4" stroke="#b8b8b8" stroke-width="1.1"/><line x1="2125.9" y1="2302.4" x2="2125.9" y2="2313.4" stroke="#222" stroke-width="1.1"/><line x1="2186.5" y1="2045.3" x2="2186.5" y2="2302.4" stroke="#b8b8b8" stroke-width="1.1"/><line x1="2186.5" y1="2302.4" x2="2186.5" y2="2313.4" stroke="#222" stroke-width="1.1"/><line x1="2307.6" y1="2045.3" x2="2307.6" y2="2302.4" stroke="#b8b8b8" stroke-width="1.1"/><line x1="2307.6" y1="2302.4" x2="2307.6" y2="2313.4" stroke="#222" stroke-width="1.1"/><line x1="2065.2" y1="2161.3" x2="2322.9" y2="2161.3" stroke="#b8b8b8" stroke-width="1.1"/><line x1="2065.2" y1="2277.6" x2="2322.9" y2="2277.6" stroke="#b8b8b8" stroke-width="1.1"/><line x1="2059.7" y1="2295.6" x2="2065.2" y2="2295.6" stroke="#222" stroke-width="1.0"/><line x1="2059.7" y1="2288.9" x2="2065.2" y2="2288.9" stroke="#222" stroke-width="1.0"/><line x1="2059.7" y1="2282.9" x2="2065.2" y2="2282.9" stroke="#222" stroke-width="1.0"/><line x1="2054.5" y1="2277.6" x2="2065.2" y2="2277.6" stroke="#222" stroke-width="1.0"/><line x1="2059.7" y1="2242.6" x2="2065.2" y2="2242.6" stroke="#222" stroke-width="1.0"/><line x1="2059.7" y1="2222.1" x2="2065.2" y2="2222.1" stroke="#222" stroke-width="1.0"/><line x1="2059.7" y1="2207.6" x2="2065.2" y2="2207.6" stroke="#222" stroke-width="1.0"/><line x1="2059.7" y1="2196.3" x2="2065.2" y2="2196.3" stroke="#222" stroke-width="1.0"/><line x1="2059.7" y1="2187.1" x2="2065.2" y2="2187.1" stroke="#222" stroke-width="1.0"/><line x1="2059.7" y1="2179.3" x2="2065.2" y2="2179.3" stroke="#222" stroke-width="1.0"/><line x1="2059.7" y1="2172.6" x2="2065.2" y2="2172.6" stroke="#222" stroke-width="1.0"/><line x1="2059.7" y1="2166.6" x2="2065.2" y2="2166.6" stroke="#222" stroke-width="1.0"/><line x1="2054.5" y1="2161.3" x2="2065.2" y2="2161.3" stroke="#222" stroke-width="1.0"/><line x1="2059.7" y1="2126.3" x2="2065.2" y2="2126.3" stroke="#222" stroke-width="1.0"/><line x1="2059.7" y1="2105.8" x2="2065.2" y2="2105.8" stroke="#222" stroke-width="1.0"/><line x1="2059.7" y1="2091.3" x2="2065.2" y2="2091.3" stroke="#222" stroke-width="1.0"/><line x1="2059.7" y1="2080.0" x2="2065.2" y2="2080.0" stroke="#222" stroke-width="1.0"/><line x1="2059.7" y1="2070.8" x2="2065.2" y2="2070.8" stroke="#222" stroke-width="1.0"/><line x1="2059.7" y1="2063.0" x2="2065.2" y2="2063.0" stroke="#222" stroke-width="1.0"/><line x1="2059.7" y1="2056.3" x2="2065.2" y2="2056.3" stroke="#222" stroke-width="1.0"/><line x1="2059.7" y1="2050.3" x2="2065.2" y2="2050.3" stroke="#222" stroke-width="1.0"/><line x1="2054.5" y1="2045.0" x2="2065.2" y2="2045.0" stroke="#222" stroke-width="1.0"/><polyline points="2080.5,2161.3 2095.6,2194.7 2125.9,2225.0 2186.5,2251.0 2307.6,2277.9" fill="none" stroke="#377eb8" stroke-width="2.6" stroke-dasharray="8.5,5.5"/><polyline points="2080.5,2062.1 2095.6,2094.0 2125.9,2124.0 2186.5,2152.1 2307.6,2174.2" fill="none" stroke="#e41a1c" stroke-width="2.6" stroke-dasharray="8.5,5.5"/><polygon points="2080.5,2151.8 2072.2,2166.5 2088.8,2166.5" fill="#377eb8"/><polygon points="2095.6,2185.2 2087.3,2199.8999999999996 2103.9,2199.8999999999996" fill="#377eb8"/><polygon points="2125.9,2215.5 2117.6,2230.2 2134.2,2230.2" fill="#377eb8"/><polygon points="2186.5,2241.5 2178.2,2256.2 2194.8,2256.2" fill="#377eb8"/><polygon points="2307.6,2268.4 2299.3,2283.1 2315.9,2283.1" fill="#377eb8"/><circle cx="2080.5" cy="2062.1" r="7.9" fill="#e41a1c"/><circle cx="2095.6" cy="2094.0" r="7.9" fill="#e41a1c"/><circle cx="2125.9" cy="2124.0" r="7.9" fill="#e41a1c"/><circle cx="2186.5" cy="2152.1" r="7.9" fill="#e41a1c"/><circle cx="2307.6" cy="2174.2" r="7.9" fill="#e41a1c"/><rect x="2065.2" y="2045.3" width="257.7" height="257.1" fill="none" stroke="#222" stroke-width="1.3"/><rect x="2187.0" y="2053.6" width="127.6" height="75.9" fill="#fff" stroke="#222" stroke-width="1.2"/><line x1="2196.8" y1="2075" x2="2236.6" y2="2075" stroke="#e41a1c" stroke-width="2.6" stroke-dasharray="8.5,7"/><circle cx="2219.1" cy="2075" r="7.9" fill="#e41a1c"/><line x1="2196.8" y1="2107.1" x2="2236.6" y2="2107.1" stroke="#377eb8" stroke-width="2.6" stroke-dasharray="8.5,7"/><polygon points="2219.1,2097.6 2210.8,2112.3 2227.4,2112.3" fill="#377eb8"/><text x="2248.8" y="2082.0" font-size="26.5" text-anchor="start" textLength="45.0" lengthAdjust="spacingAndGlyphs" >Std.</text><text x="2248.8" y="2114.8" font-size="26.5" text-anchor="start" textLength="50.6" lengthAdjust="spacingAndGlyphs" >Opt.</text><text x="2007.6" y="2055.5" font-size="23.7" textLength="24.8" lengthAdjust="spacingAndGlyphs">10</text><text x="2032.4" y="2045.6" font-size="18.3" textLength="11.0" lengthAdjust="spacingAndGlyphs">4</text><text x="2007.6" y="2171.8" font-size="23.7" textLength="24.8" lengthAdjust="spacingAndGlyphs">10</text><text x="2032.4" y="2161.9" font-size="18.3" textLength="11.0" lengthAdjust="spacingAndGlyphs">3</text><text x="2007.6" y="2288.1" font-size="23.7" textLength="24.8" lengthAdjust="spacingAndGlyphs">10</text><text x="2032.4" y="2278.2" font-size="18.3" textLength="11.0" lengthAdjust="spacingAndGlyphs">2</text><text x="2074.2" y="2340.0" font-size="23.8" textLength="13.2" lengthAdjust="spacingAndGlyphs">4</text><text x="2089.3" y="2340.0" font-size="23.8" textLength="13.2" lengthAdjust="spacingAndGlyphs">8</text><text x="2113.0" y="2340.0" font-size="23.8" textLength="26.4" lengthAdjust="spacingAndGlyphs">16</text><text x="2173.6" y="2340.0" font-size="23.8" textLength="26.4" lengthAdjust="spacingAndGlyphs">32</text><text x="2294.7" y="2340.0" font-size="23.8" textLength="26.4" lengthAdjust="spacingAndGlyphs">64</text><text x="2148.8" y="2368.7" font-size="29.6" text-anchor="start" textLength="91.2" lengthAdjust="spacingAndGlyphs" >#GPUs</text><text transform="translate(1980.3,2252.2) rotate(-90)" font-size="28.5" textLength="160.0" lengthAdjust="spacingAndGlyphs">epoch time /s</text></svg>
<div style="left:2673.0px;top:422.2px;font-size:31.1px;line-height:37.32px;color:#000;">Benchmarks</div>
<div style="left:2673.0px;top:481.5px;font-size:31.15px;line-height:37.38px;color:#37474f;">The integrated benchmarking tool within AI4HPC facilitates the evaluation of</div>
<div style="left:2676.5px;top:527.2px;font-size:31.15px;line-height:37.38px;color:#37474f;">an HPC system's performance metrics.</div>
<div style="left:2544.8px;top:1106.1px;font-size:19.38px;line-height:23.26px;color:#546e7a;width:1300.0px;text-align:center;">AI4HPC benchmarking tool on complete JUWELS-BOOSTER with 3,664 NVIDIA A100s. Here, a synthetically created</div>
<div style="left:2544.8px;top:1128.9px;font-size:19.38px;line-height:23.26px;color:#546e7a;width:1300.0px;text-align:center;">dataset that occupies 36GB of memory per GPU (90% of total memory) is allocated to train U-NET architecture with over</div>
<div style="left:2544.8px;top:1151.8px;font-size:19.38px;line-height:23.26px;color:#546e7a;width:1300.0px;text-align:center;">50 million parameters. Note that AI4HPC (red line) achieves almost ideal scaling performance (black line).</div>
<div style="left:2678.9px;top:1184.4px;font-size:50.8px;line-height:60.96px;color:#000;">Results</div>
<div style="left:2679.3px;top:1271.2px;font-size:31.1px;line-height:37.32px;color:#000;">Evaluating AI4HPC Performance through Case Study Outcomes</div>
<div style="left:2679.0px;top:1345.0px;font-size:31.1px;line-height:37.32px;color:#37474f;width:1043.7px;text-align:justify;text-align-last:justify;white-space:normal;">We present the results of the Convolutional Defiltering Model (CDM)</div>
<div style="left:2679.0px;top:1389.7px;font-size:31.1px;line-height:37.32px;color:#37474f;width:1043.7px;text-align:justify;text-align-last:justify;white-space:normal;">applied to the Actuated Turbulent Boundary Layer (ATBL) CFD dataset<sup>3</sup></div>
<div style="left:2679.0px;top:1434.5px;font-size:31.1px;line-height:37.32px;color:#37474f;width:1043.7px;text-align:justify;text-align-last:justify;white-space:normal;">that is over 8.3TB. The CDM successfully generates high-fidelity fields from</div>
<div style="left:2679.0px;top:1479.3px;font-size:31.1px;line-height:37.32px;color:#37474f;width:1043.7px;text-align:justify;text-align-last:justify;white-space:normal;">input data that is five times coarser, showcasing its powerful super-</div>
<div style="left:2679.0px;top:1523.6px;font-size:31.1px;line-height:37.32px;color:#37474f;">resolution capabilities.</div>
<div style="left:2856.8px;top:2161.4px;font-size:19.38px;line-height:23.26px;color:#546e7a;width:1000.0px;text-align:center;">Top row shows the streamvice velocity contour plots of the tested high-fidelity field</div>
<div style="left:2856.8px;top:2184.6px;font-size:19.38px;line-height:23.26px;color:#546e7a;width:1000.0px;text-align:center;">(original), 5x coarse input (filtered), and the reconstructed field (output). Middle row</div>
<div style="left:2856.8px;top:2207.8px;font-size:19.38px;line-height:23.26px;color:#546e7a;width:1000.0px;text-align:center;">has the line plots cut from the top fields from the red dashed line. Bottom row depicts</div>
<div style="left:2856.8px;top:2231.0px;font-size:19.38px;line-height:23.26px;color:#546e7a;width:1000.0px;text-align:center;">the gradient of the streamline velocity instead. Note that blue line almost perfectly</div>
<div style="left:2856.8px;top:2254.2px;font-size:19.38px;line-height:23.26px;color:#546e7a;width:1000.0px;text-align:center;">matches black dashed line.</div>
<div style="left:2677.4px;top:2295.3px;font-size:31.1px;line-height:37.32px;color:#000;">Reference</div>
<div style="left:2678.4px;top:2343.5px;font-size:20.7px;line-height:24.84px;color:#000;"><sup>1</sup>AI4HPC. <span style="color:#6f879b">In:</span> <span style="color:#0000ee;text-decoration:underline">www.ai4hpc.com</span> <span style="color:#6f879b">.</span></div>
<div style="left:2678.4px;top:2381.9px;font-size:20.7px;line-height:24.84px;color:#000;"><sup>2</sup>CoE-RAISE, EU-funded Centre of Excellence for Research on AI- and</div>
<div style="left:2678.4px;top:2411.6px;font-size:20.7px;line-height:24.84px;color:#000;">Simulation-Based Engineering at Exascale. <span style="color:#6f879b">In:</span> <span style="color:#0000ee;text-decoration:underline">www.coe-raise.eu</span> <span style="color:#6f879b">.</span></div>
<div style="left:2678.4px;top:2450.5px;font-size:20.7px;line-height:24.84px;color:#000;"><sup>3</sup>M. Albers et al. (2019). &ldquo;Actively reduced airfoil drag by transversal surface</div>
<div style="left:2678.4px;top:2480.3px;font-size:20.7px;line-height:24.84px;color:#000;">wave.&rdquo; <span style="color:#6f879b">In: Flow Turbul. Combust. 102 (4) p. 865-886.</span></div>
<svg style="left:2690px;top:590px" width="1010" height="510" viewBox="2690 590 1010 510" font-family="Liberation Serif, serif" fill="#111"><line x1="2774.2" y1="602.2" x2="2774.2" y2="1039.1" stroke="#cfcfcf" stroke-width="1.1"/><line x1="2774.2" y1="1039.1" x2="2774.2" y2="1045.6" stroke="#333" stroke-width="1"/><line x1="2804.3" y1="602.2" x2="2804.3" y2="1039.1" stroke="#cfcfcf" stroke-width="1.1"/><line x1="2804.3" y1="1039.1" x2="2804.3" y2="1045.6" stroke="#333" stroke-width="1"/><line x1="2835.4" y1="602.2" x2="2835.4" y2="1039.1" stroke="#cfcfcf" stroke-width="1.1"/><line x1="2835.4" y1="1039.1" x2="2835.4" y2="1045.6" stroke="#333" stroke-width="1"/><line x1="2897.5" y1="602.2" x2="2897.5" y2="1039.1" stroke="#cfcfcf" stroke-width="1.1"/><line x1="2897.5" y1="1039.1" x2="2897.5" y2="1045.6" stroke="#333" stroke-width="1"/><line x1="3021.9" y1="602.2" x2="3021.9" y2="1039.1" stroke="#cfcfcf" stroke-width="1.1"/><line x1="3021.9" y1="1039.1" x2="3021.9" y2="1045.6" stroke="#333" stroke-width="1"/><line x1="3270.5" y1="602.2" x2="3270.5" y2="1039.1" stroke="#cfcfcf" stroke-width="1.1"/><line x1="3270.5" y1="1039.1" x2="3270.5" y2="1045.6" stroke="#333" stroke-width="1"/><line x1="3355.9" y1="602.2" x2="3355.9" y2="1039.1" stroke="#cfcfcf" stroke-width="1.1"/><line x1="3355.9" y1="1039.1" x2="3355.9" y2="1045.6" stroke="#333" stroke-width="1"/><line x1="3519.1" y1="602.2" x2="3519.1" y2="1039.1" stroke="#cfcfcf" stroke-width="1.1"/><line x1="3519.1" y1="1039.1" x2="3519.1" y2="1045.6" stroke="#333" stroke-width="1"/><line x1="3662.8" y1="602.2" x2="3662.8" y2="1039.1" stroke="#cfcfcf" stroke-width="1.1"/><line x1="3662.8" y1="1039.1" x2="3662.8" y2="1045.6" stroke="#333" stroke-width="1"/><line x1="2773.2" y1="1039.1" x2="3670.8" y2="1039.1" stroke="#cfcfcf" stroke-width="1.1"/><line x1="2766.3999999999996" y1="1039.1" x2="2773.2" y2="1039.1" stroke="#333" stroke-width="1"/><line x1="2773.2" y1="1024.8" x2="3670.8" y2="1024.8" stroke="#cfcfcf" stroke-width="1.1"/><line x1="2766.3999999999996" y1="1024.8" x2="2773.2" y2="1024.8" stroke="#333" stroke-width="1"/><line x1="2773.2" y1="1010.1" x2="3670.8" y2="1010.1" stroke="#cfcfcf" stroke-width="1.1"/><line x1="2766.3999999999996" y1="1010.1" x2="2773.2" y2="1010.1" stroke="#333" stroke-width="1"/><line x1="2773.2" y1="980.7" x2="3670.8" y2="980.7" stroke="#cfcfcf" stroke-width="1.1"/><line x1="2766.3999999999996" y1="980.7" x2="2773.2" y2="980.7" stroke="#333" stroke-width="1"/><line x1="2773.2" y1="921.9" x2="3670.8" y2="921.9" stroke="#cfcfcf" stroke-width="1.1"/><line x1="2766.3999999999996" y1="921.9" x2="2773.2" y2="921.9" stroke="#333" stroke-width="1"/><line x1="2773.2" y1="804.2" x2="3670.8" y2="804.2" stroke="#cfcfcf" stroke-width="1.1"/><line x1="2766.3999999999996" y1="804.2" x2="2773.2" y2="804.2" stroke="#333" stroke-width="1"/><line x1="2773.2" y1="763.7" x2="3670.8" y2="763.7" stroke="#cfcfcf" stroke-width="1.1"/><line x1="2766.3999999999996" y1="763.7" x2="2773.2" y2="763.7" stroke="#333" stroke-width="1"/><line x1="2773.2" y1="686.5" x2="3670.8" y2="686.5" stroke="#cfcfcf" stroke-width="1.1"/><line x1="2766.3999999999996" y1="686.5" x2="2773.2" y2="686.5" stroke="#333" stroke-width="1"/><line x1="2773.2" y1="618.5" x2="3670.8" y2="618.5" stroke="#cfcfcf" stroke-width="1.1"/><line x1="2766.3999999999996" y1="618.5" x2="2773.2" y2="618.5" stroke="#333" stroke-width="1"/><rect x="2773.2" y="602.2" width="897.6" height="436.9" fill="none" stroke="#555" stroke-width="1.4"/><polyline points="2774.2,1039.1 2775.2,1038.6 2777.1,1037.7 2781.0,1035.9 2788.8,1032.2 2804.3,1025.0 2835.4,1010.6 2897.5,981.5 3021.9,924.8 3270.5,809.8 3355.9,772.9 3519.1,694.4 3662.8,634.3" fill="none" stroke="#e41a1c" stroke-width="2.1" stroke-dasharray="5.5,4.5"/><line x1="2774.2" y1="1039.1" x2="3662.8" y2="618.5" stroke="#000" stroke-width="2.5" stroke-dasharray="5.5,4.5"/><circle cx="2774.2" cy="1039.1" r="5.3" fill="#e41a1c"/><circle cx="2775.2" cy="1038.6" r="5.3" fill="#e41a1c"/><circle cx="2777.1" cy="1037.7" r="5.3" fill="#e41a1c"/><circle cx="2781.0" cy="1035.9" r="5.3" fill="#e41a1c"/><circle cx="2788.8" cy="1032.2" r="5.3" fill="#e41a1c"/><circle cx="2804.3" cy="1025.0" r="5.3" fill="#e41a1c"/><circle cx="2835.4" cy="1010.6" r="5.3" fill="#e41a1c"/><circle cx="2897.5" cy="981.5" r="5.3" fill="#e41a1c"/><circle cx="3021.9" cy="924.8" r="5.3" fill="#e41a1c"/><circle cx="3270.5" cy="809.8" r="5.3" fill="#e41a1c"/><circle cx="3355.9" cy="772.9" r="5.3" fill="#e41a1c"/><circle cx="3519.1" cy="694.4" r="5.3" fill="#e41a1c"/><circle cx="3662.8" cy="634.3" r="5.3" fill="#e41a1c"/><rect x="2800.3" y="616.0" width="113.9" height="51.3" fill="#fff" stroke="#333" stroke-width="1"/><line x1="2806.7" y1="630.3" x2="2831.4" y2="630.3" stroke="#e41a1c" stroke-width="2" stroke-dasharray="3.5,3"/><circle cx="2820" cy="630.3" r="5.3" fill="#e41a1c"/><line x1="2806.7" y1="653.0" x2="2831.4" y2="653.0" stroke="#000" stroke-width="2.2" stroke-dasharray="3.5,3"/><text x="2839.0" y="635.7" font-size="18.6" text-anchor="start" textLength="68.0" lengthAdjust="spacingAndGlyphs" font-style="italic">AI4HPC</text><text x="2839.2" y="658.8" font-size="18.6" text-anchor="start" textLength="39.2" lengthAdjust="spacingAndGlyphs" >Ideal</text><text x="2760.6" y="1045.7" font-size="19" text-anchor="end">1</text><text x="2760.6" y="1031.4" font-size="19" text-anchor="end">32</text><text x="2760.6" y="1016.7" font-size="19" text-anchor="end">64</text><text x="2760.6" y="987.3" font-size="19" text-anchor="end">128</text><text x="2760.6" y="928.5" font-size="19" text-anchor="end">256</text><text x="2760.6" y="810.8" font-size="19" text-anchor="end">512</text><text x="2760.6" y="770.3" font-size="19" text-anchor="end">600</text><text x="2760.6" y="693.1" font-size="19" text-anchor="end">768</text><text x="2760.6" y="625.1" font-size="19" text-anchor="end">916</text><text x="2774.2" y="1064.6" font-size="19" text-anchor="middle">4</text><text x="2804.3" y="1064.6" font-size="19" text-anchor="middle">128</text><text x="2835.4" y="1064.6" font-size="19" text-anchor="middle">256</text><text x="2897.5" y="1064.6" font-size="19" text-anchor="middle">512</text><text x="3021.9" y="1064.6" font-size="19" text-anchor="middle">1,024</text><text x="3270.5" y="1064.6" font-size="19" text-anchor="middle">2,048</text><text x="3355.9" y="1064.6" font-size="19" text-anchor="middle">2,400</text><text x="3519.1" y="1064.6" font-size="19" text-anchor="middle">3,072</text><text x="3662.8" y="1064.6" font-size="19" text-anchor="middle">3,664</text><text x="3222" y="1081.8" font-size="18.5" text-anchor="middle">GPUs</text><text transform="translate(2721.3,853.5) rotate(-90)" font-size="18.5" textLength="66.5" lengthAdjust="spacingAndGlyphs">Speedup</text></svg>
<svg style="left:3030px;top:1530px" width="660" height="620" viewBox="3030 1530 660 620" font-family="Liberation Sans, sans-serif" fill="#222"><defs><filter id="gr1" x="0" y="0" width="1" height="1" color-interpolation-filters="sRGB"><feTurbulence type="fractalNoise" baseFrequency="0.028 0.095" numOctaves="3" seed="7"/><feColorMatrix values="1 0 0 0 0  1 0 0 0 0  1 0 0 0 0  0 0 0 0 1"/><feComponentTransfer><feFuncR type="table" tableValues="0 .02 .07 .16 .3 .48 .7 .9 1 1 1"/><feFuncG type="table" tableValues="0 .02 .07 .16 .3 .48 .7 .9 1 1 1"/><feFuncB type="table" tableValues="0 .02 .07 .16 .3 .48 .7 .9 1 1 1"/></feComponentTransfer></filter><filter id="gr2" x="0" y="0" width="1" height="1" color-interpolation-filters="sRGB"><feTurbulence type="fractalNoise" baseFrequency="0.024 0.08" numOctaves="2" seed="7"/><feColorMatrix values="1 0 0 0 0  1 0 0 0 0  1 0 0 0 0  0 0 0 0 1"/><feComponentTransfer><feFuncR type="table" tableValues=".02 .04 .08 .15 .27 .42 .6 .78 .9 .97 1"/><feFuncG type="table" tableValues=".02 .04 .08 .15 .27 .42 .6 .78 .9 .97 1"/><feFuncB type="table" tableValues=".02 .04 .08 .15 .27 .42 .6 .78 .9 .97 1"/></feComponentTransfer></filter></defs><g transform="translate(3109.0,1560)"><rect x="0" y="0" width="153.2" height="148.0" fill="#555" filter="url(#gr1)"/></g><line x1="3109.0" y1="1603.4" x2="3262.2" y2="1603.4" stroke="#f00" stroke-width="2.6" stroke-dasharray="10,3.8"/><rect x="3109.0" y="1560" width="153.2" height="148.0" fill="none" stroke="#000" stroke-width="1"/><line x1="3105.5" y1="1588.1" x2="3109.0" y2="1588.1" stroke="#000" stroke-width="1"/><text x="3100.4" y="1592.9" font-size="12.9" text-anchor="end">20</text><line x1="3105.5" y1="1634.0" x2="3109.0" y2="1634.0" stroke="#000" stroke-width="1"/><text x="3100.4" y="1638.8" font-size="12.9" text-anchor="end">0</text><line x1="3105.5" y1="1680.3" x2="3109.0" y2="1680.3" stroke="#000" stroke-width="1"/><text x="3100.4" y="1685.1" font-size="12.9" text-anchor="end">−20</text><line x1="3124.8" y1="1708" x2="3124.8" y2="1711.5" stroke="#000" stroke-width="1"/><text x="3124.8" y="1726.2" font-size="12.9" text-anchor="middle">−20</text><line x1="3186.0" y1="1708" x2="3186.0" y2="1711.5" stroke="#000" stroke-width="1"/><text x="3186.0" y="1726.2" font-size="12.9" text-anchor="middle">0</text><line x1="3247.1" y1="1708" x2="3247.1" y2="1711.5" stroke="#000" stroke-width="1"/><text x="3247.1" y="1726.2" font-size="12.9" text-anchor="middle">20</text><text x="3163.8" y="1743.4" font-size="13.8" textLength="43" lengthAdjust="spacingAndGlyphs">z [mm]</text><g transform="translate(3308.3,1560)"><rect x="0" y="0" width="153.2" height="148.0" fill="#555" filter="url(#gr2)"/></g><line x1="3308.3" y1="1603.4" x2="3461.5" y2="1603.4" stroke="#f00" stroke-width="2.6" stroke-dasharray="10,3.8"/><rect x="3308.3" y="1560" width="153.2" height="148.0" fill="none" stroke="#000" stroke-width="1"/><line x1="3304.8" y1="1588.1" x2="3308.3" y2="1588.1" stroke="#000" stroke-width="1"/><text x="3299.7" y="1592.9" font-size="12.9" text-anchor="end">20</text><line x1="3304.8" y1="1634.0" x2="3308.3" y2="1634.0" stroke="#000" stroke-width="1"/><text x="3299.7" y="1638.8" font-size="12.9" text-anchor="end">0</text><line x1="3304.8" y1="1680.3" x2="3308.3" y2="1680.3" stroke="#000" stroke-width="1"/><text x="3299.7" y="1685.1" font-size="12.9" text-anchor="end">−20</text><line x1="3324.1" y1="1708" x2="3324.1" y2="1711.5" stroke="#000" stroke-width="1"/><text x="3324.1" y="1726.2" font-size="12.9" text-anchor="middle">−20</text><line x1="3385.3" y1="1708" x2="3385.3" y2="1711.5" stroke="#000" stroke-width="1"/><text x="3385.3" y="1726.2" font-size="12.9" text-anchor="middle">0</text><line x1="3446.4" y1="1708" x2="3446.4" y2="1711.5" stroke="#000" stroke-width="1"/><text x="3446.4" y="1726.2" font-size="12.9" text-anchor="middle">20</text><text x="3363.1" y="1743.4" font-size="13.8" textLength="43" lengthAdjust="spacingAndGlyphs">z [mm]</text><g transform="translate(3507.5,1560)"><rect x="0" y="0" width="153.2" height="148.0" fill="#555" filter="url(#gr1)"/></g><line x1="3507.5" y1="1603.4" x2="3660.7" y2="1603.4" stroke="#f00" stroke-width="2.6" stroke-dasharray="10,3.8"/><rect x="3507.5" y="1560" width="153.2" height="148.0" fill="none" stroke="#000" stroke-width="1"/><line x1="3504.0" y1="1588.1" x2="3507.5" y2="1588.1" stroke="#000" stroke-width="1"/><text x="3498.9" y="1592.9" font-size="12.9" text-anchor="end">20</text><line x1="3504.0" y1="1634.0" x2="3507.5" y2="1634.0" stroke="#000" stroke-width="1"/><text x="3498.9" y="1638.8" font-size="12.9" text-anchor="end">0</text><line x1="3504.0" y1="1680.3" x2="3507.5" y2="1680.3" stroke="#000" stroke-width="1"/><text x="3498.9" y="1685.1" font-size="12.9" text-anchor="end">−20</text><line x1="3523.3" y1="1708" x2="3523.3" y2="1711.5" stroke="#000" stroke-width="1"/><text x="3523.3" y="1726.2" font-size="12.9" text-anchor="middle">−20</text><line x1="3584.5" y1="1708" x2="3584.5" y2="1711.5" stroke="#000" stroke-width="1"/><text x="3584.5" y="1726.2" font-size="12.9" text-anchor="middle">0</text><line x1="3645.6" y1="1708" x2="3645.6" y2="1711.5" stroke="#000" stroke-width="1"/><text x="3645.6" y="1726.2" font-size="12.9" text-anchor="middle">20</text><text x="3562.3" y="1743.4" font-size="13.8" textLength="43" lengthAdjust="spacingAndGlyphs">z [mm]</text><text x="3135.2" y="1552.1" font-size="15.6" text-anchor="start" textLength="55.0" lengthAdjust="spacingAndGlyphs" >original</text><text x="3194.8" y="1552.1" font-size="15.6" font-style="italic">Z</text><text x="3207.5" y="1552.1" font-size="15.6" text-anchor="start" >=</text><text x="3222.0" y="1552.1" font-size="15.6" font-style="italic">u<tspan font-size="10.5" dy="3">i</tspan></text><text x="3350.2" y="1551.6" font-size="15.6" text-anchor="start" textLength="51.5" lengthAdjust="spacingAndGlyphs" >filtered</text><text x="3406.0" y="1551.6" font-size="15.6" font-style="italic">Z</text><text x="3409.2" y="1541.9" font-size="12.5">~</text><text x="3551.0" y="1551.6" font-size="15.6" text-anchor="start" textLength="46.5" lengthAdjust="spacingAndGlyphs" >output</text><text x="3602.0" y="1551.6" font-size="15.6" font-style="italic">Z</text><text x="3605.0" y="1543.5" font-size="12.5">^</text><text transform="translate(3067.3,1657.3) rotate(-90)" font-size="13.8" textLength="45" lengthAdjust="spacingAndGlyphs">x [mm]</text><polyline points="3133.2,1832.2 3136.4,1829.3 3140.0,1832.2 3143.6,1841.9 3148.5,1861.3 3153.3,1877.1 3158.2,1883.6 3163.0,1886.8 3170.3,1887.5 3177.6,1888.5 3183.6,1887.5 3192.1,1883.6 3199.4,1881.2 3206.6,1879.5 3213.9,1875.9 3221.2,1871.5 3227.2,1868.1 3232.1,1866.7 3236.9,1869.1 3243.0,1875.4 3247.8,1881.2 3252.2,1883.6 3256.3,1880.7 3261.2,1868.6 3266.0,1858.9 3270.9,1856.0 3275.7,1857.0 3281.8,1861.8 3287.8,1871.0 3292.7,1877.8 3295.8,1878.8 3299.2,1875.9 3303.6,1858.9 3307.2,1829.8 3310.8,1803.2 3314.5,1781.4 3318.1,1768.0 3321.7,1761.5 3324.9,1759.5 3328.3,1762.4 3332.2,1772.9 3336.3,1786.2 3339.9,1795.9 3343.6,1801.2 3348.4,1803.2 3353.3,1804.4 3358.1,1808.5 3362.9,1816.5 3367.8,1828.6 3373.9,1845.6 3379.9,1858.9 3386.0,1866.7 3392.0,1869.8 3398.1,1868.1 3405.4,1862.5 3412.6,1855.3 3417.5,1848.0 3422.3,1837.1 3427.2,1822.6 3432.0,1807.3 3435.7,1800.5 3438.1,1799.5 3441.7,1804.9 3445.3,1817.7 3449.0,1834.7 3452.6,1854.1 3456.3,1871.0 3459.9,1880.2 3463.5,1884.4 3468.4,1886.0 3474.4,1889.9 3479.3,1892.8 3482.9,1892.8 3487.8,1888.0 3493.8,1879.5 3499.9,1872.2 3504.7,1865.0 3509.6,1851.6 3514.4,1834.7 3518.1,1822.6 3521.7,1817.2 3526.5,1815.8 3531.4,1815.0 3536.2,1813.6 3539.1,1814.6 3542.3,1825.0 3545.9,1841.9 3549.6,1858.9 3553.2,1871.0 3558.0,1880.7 3562.9,1886.8 3566.5,1889.0 3571.4,1888.5 3576.2,1888.0 3581.1,1889.9 3585.9,1892.3 3592.0,1893.3 3598.0,1891.6 3604.1,1889.2 3611.4,1888.0 3618.6,1884.4 3624.7,1877.1 3629.5,1868.6 3634.4,1861.8" fill="none" stroke="#000" stroke-width="1.8" stroke-dasharray="1.8,3"/><path d="M3133.2,1849.2C3134.1,1849.8 3136.8,1851.0 3138.8,1852.8C3140.7,1854.7 3142.8,1857.5 3144.8,1860.1C3146.9,1862.7 3148.7,1866.0 3150.9,1868.6C3153.1,1871.2 3155.7,1873.8 3158.2,1875.9C3160.6,1878.0 3163.0,1879.9 3165.4,1881.2C3167.9,1882.5 3170.3,1883.3 3172.7,1883.9C3175.1,1884.4 3177.6,1884.6 3180.0,1884.4C3182.4,1884.1 3184.4,1883.7 3187.2,1882.7C3190.1,1881.6 3193.7,1880.1 3196.9,1878.3C3200.2,1876.4 3203.4,1873.7 3206.6,1871.5C3209.9,1869.3 3213.3,1866.6 3216.3,1865.0C3219.4,1863.3 3222.2,1862.5 3224.8,1861.8C3227.4,1861.2 3229.5,1860.8 3232.1,1861.1C3234.7,1861.3 3237.9,1862.6 3240.6,1863.3C3243.2,1863.9 3245.4,1864.8 3247.8,1865.0C3250.3,1865.2 3252.7,1865.1 3255.1,1864.5C3257.5,1863.9 3259.9,1862.6 3262.4,1861.3C3264.8,1860.1 3267.2,1858.1 3269.6,1857.0C3272.1,1855.8 3274.5,1855.0 3276.9,1854.5C3279.3,1854.1 3281.8,1854.1 3284.2,1854.1C3286.6,1854.1 3289.2,1854.9 3291.5,1854.5C3293.7,1854.1 3295.5,1853.3 3297.5,1851.6C3299.5,1849.9 3301.6,1847.8 3303.6,1844.4C3305.6,1840.9 3307.6,1835.5 3309.6,1831.0C3311.7,1826.6 3313.7,1821.3 3315.7,1817.7C3317.7,1814.1 3319.7,1811.3 3321.7,1809.2C3323.8,1807.1 3326.0,1805.9 3327.8,1805.1C3329.6,1804.3 3330.8,1804.2 3332.7,1804.6C3334.5,1805.0 3336.7,1806.4 3338.7,1807.5C3340.7,1808.7 3342.5,1810.4 3344.8,1811.6C3347.0,1812.9 3349.6,1813.9 3352.0,1815.3C3354.5,1816.7 3356.9,1817.9 3359.3,1820.1C3361.7,1822.3 3364.2,1825.2 3366.6,1828.6C3369.0,1832.0 3371.4,1836.7 3373.9,1840.7C3376.3,1844.8 3378.7,1849.5 3381.1,1852.8C3383.5,1856.2 3386.0,1859.0 3388.4,1860.8C3390.8,1862.7 3393.2,1863.7 3395.7,1863.8C3398.1,1863.8 3400.5,1862.7 3402.9,1861.3C3405.4,1859.9 3407.8,1857.7 3410.2,1855.3C3412.6,1852.8 3415.1,1849.4 3417.5,1846.8C3419.9,1844.2 3422.3,1841.5 3424.7,1839.5C3427.2,1837.6 3429.8,1836.1 3432.0,1835.2C3434.2,1834.2 3436.1,1833.6 3438.1,1833.9C3440.1,1834.3 3441.9,1835.0 3444.1,1837.1C3446.4,1839.2 3449.0,1843.2 3451.4,1846.8C3453.8,1850.4 3456.3,1855.1 3458.7,1858.9C3461.1,1862.7 3463.5,1866.9 3465.9,1869.8C3468.4,1872.7 3470.8,1874.7 3473.2,1876.4C3475.6,1878.0 3478.1,1879.1 3480.5,1880.0C3482.9,1880.9 3485.3,1881.8 3487.8,1881.9C3490.2,1882.0 3492.6,1881.5 3495.0,1880.7C3497.5,1879.9 3499.9,1878.7 3502.3,1877.1C3504.7,1875.5 3507.1,1873.6 3509.6,1871.0C3512.0,1868.4 3514.4,1864.6 3516.8,1861.3C3519.3,1858.1 3521.7,1854.4 3524.1,1851.6C3526.5,1848.9 3529.2,1846.5 3531.4,1844.8C3533.6,1843.2 3535.6,1842.4 3537.4,1841.9C3539.3,1841.5 3540.5,1841.3 3542.3,1841.9C3544.1,1842.5 3546.1,1843.6 3548.3,1845.6C3550.6,1847.6 3553.2,1851.0 3555.6,1854.1C3558.0,1857.1 3560.5,1860.8 3562.9,1863.8C3565.3,1866.7 3567.7,1869.4 3570.2,1871.5C3572.6,1873.6 3575.0,1875.1 3577.4,1876.4C3579.8,1877.6 3582.3,1878.4 3584.7,1878.8C3587.1,1879.2 3589.5,1879.0 3592.0,1878.8C3594.4,1878.6 3596.4,1877.8 3599.2,1877.6C3602.1,1877.3 3605.7,1877.4 3608.9,1877.1C3612.2,1876.8 3615.8,1876.5 3618.6,1875.9C3621.5,1875.3 3623.7,1874.2 3625.9,1873.4C3628.1,1872.7 3630.9,1871.8 3632.0,1871.5" fill="none" stroke="#f00" stroke-width="2" stroke-dasharray="7,3"/><path d="M3133.2,1832.2C3133.7,1831.8 3135.2,1829.3 3136.4,1829.3C3137.5,1829.3 3138.8,1830.1 3140.0,1832.2C3141.2,1834.3 3142.2,1837.1 3143.6,1841.9C3145.0,1846.8 3146.9,1855.5 3148.5,1861.3C3150.1,1867.2 3151.7,1873.4 3153.3,1877.1C3154.9,1880.8 3156.5,1882.0 3158.2,1883.6C3159.8,1885.2 3161.0,1886.1 3163.0,1886.8C3165.0,1887.4 3167.9,1887.2 3170.3,1887.5C3172.7,1887.8 3175.3,1888.5 3177.6,1888.5C3179.8,1888.5 3181.2,1888.3 3183.6,1887.5C3186.0,1886.7 3189.5,1884.7 3192.1,1883.6C3194.7,1882.6 3196.9,1881.9 3199.4,1881.2C3201.8,1880.5 3204.2,1880.4 3206.6,1879.5C3209.1,1878.6 3211.5,1877.2 3213.9,1875.9C3216.3,1874.5 3219.0,1872.8 3221.2,1871.5C3223.4,1870.2 3225.4,1868.9 3227.2,1868.1C3229.1,1867.3 3230.5,1866.5 3232.1,1866.7C3233.7,1866.8 3235.1,1867.6 3236.9,1869.1C3238.7,1870.5 3241.2,1873.4 3243.0,1875.4C3244.8,1877.4 3246.3,1879.8 3247.8,1881.2C3249.4,1882.6 3250.8,1883.7 3252.2,1883.6C3253.6,1883.5 3254.8,1883.2 3256.3,1880.7C3257.8,1878.2 3259.5,1872.2 3261.2,1868.6C3262.8,1865.0 3264.4,1861.0 3266.0,1858.9C3267.6,1856.8 3269.2,1856.3 3270.9,1856.0C3272.5,1855.7 3273.9,1856.0 3275.7,1857.0C3277.5,1857.9 3279.7,1859.5 3281.8,1861.8C3283.8,1864.2 3286.0,1868.4 3287.8,1871.0C3289.6,1873.7 3291.3,1876.5 3292.7,1877.8C3294.0,1879.1 3294.7,1879.1 3295.8,1878.8C3296.9,1878.5 3297.9,1879.2 3299.2,1875.9C3300.5,1872.6 3302.2,1866.6 3303.6,1858.9C3304.9,1851.2 3306.0,1839.1 3307.2,1829.8C3308.4,1820.5 3309.6,1811.2 3310.8,1803.2C3312.1,1795.1 3313.3,1787.2 3314.5,1781.4C3315.7,1775.5 3316.9,1771.3 3318.1,1768.0C3319.3,1764.7 3320.6,1762.9 3321.7,1761.5C3322.9,1760.1 3323.8,1759.4 3324.9,1759.5C3326.0,1759.7 3327.1,1760.2 3328.3,1762.4C3329.5,1764.7 3330.8,1768.9 3332.2,1772.9C3333.5,1776.8 3335.0,1782.4 3336.3,1786.2C3337.6,1790.0 3338.7,1793.4 3339.9,1795.9C3341.1,1798.4 3342.1,1800.0 3343.6,1801.2C3345.0,1802.4 3346.8,1802.6 3348.4,1803.2C3350.0,1803.7 3351.6,1803.5 3353.3,1804.4C3354.9,1805.3 3356.5,1806.5 3358.1,1808.5C3359.7,1810.5 3361.3,1813.1 3362.9,1816.5C3364.6,1819.8 3366.0,1823.8 3367.8,1828.6C3369.6,1833.5 3371.8,1840.5 3373.9,1845.6C3375.9,1850.6 3377.9,1855.4 3379.9,1858.9C3381.9,1862.4 3384.0,1864.8 3386.0,1866.7C3388.0,1868.5 3390.0,1869.6 3392.0,1869.8C3394.0,1870.1 3395.9,1869.3 3398.1,1868.1C3400.3,1866.9 3402.9,1864.7 3405.4,1862.5C3407.8,1860.4 3410.6,1857.7 3412.6,1855.3C3414.6,1852.8 3415.9,1851.0 3417.5,1848.0C3419.1,1845.0 3420.7,1841.3 3422.3,1837.1C3423.9,1832.9 3425.6,1827.4 3427.2,1822.6C3428.8,1817.7 3430.6,1811.6 3432.0,1808.0C3433.4,1804.5 3434.6,1802.5 3435.7,1801.2C3436.7,1799.9 3437.1,1799.5 3438.1,1800.3C3439.1,1801.0 3440.5,1802.7 3441.7,1805.6C3442.9,1808.5 3444.1,1812.9 3445.3,1817.7C3446.6,1822.6 3447.8,1828.6 3449.0,1834.7C3450.2,1840.7 3451.4,1848.0 3452.6,1854.1C3453.8,1860.1 3455.0,1866.7 3456.3,1871.0C3457.5,1875.4 3458.7,1878.0 3459.9,1880.2C3461.1,1882.5 3462.1,1883.4 3463.5,1884.4C3464.9,1885.3 3466.6,1885.1 3468.4,1886.0C3470.2,1887.0 3472.6,1888.8 3474.4,1889.9C3476.2,1891.1 3477.9,1892.3 3479.3,1892.8C3480.7,1893.3 3481.5,1893.6 3482.9,1892.8C3484.3,1892.0 3485.9,1890.2 3487.8,1888.0C3489.6,1885.8 3491.8,1882.1 3493.8,1879.5C3495.8,1876.9 3498.1,1874.7 3499.9,1872.2C3501.7,1869.8 3503.1,1868.4 3504.7,1865.0C3506.3,1861.5 3508.0,1856.7 3509.6,1851.6C3511.2,1846.6 3513.0,1839.5 3514.4,1834.7C3515.8,1829.8 3516.8,1825.5 3518.1,1822.6C3519.3,1819.6 3520.3,1818.2 3521.7,1817.2C3523.1,1816.2 3524.9,1816.7 3526.5,1816.5C3528.1,1816.3 3529.8,1816.1 3531.4,1815.8C3533.0,1815.4 3534.9,1814.4 3536.2,1814.3C3537.5,1814.2 3538.1,1813.5 3539.1,1815.3C3540.1,1817.1 3541.2,1820.5 3542.3,1825.0C3543.4,1829.4 3544.7,1836.3 3545.9,1841.9C3547.1,1847.6 3548.3,1854.1 3549.6,1858.9C3550.8,1863.8 3551.8,1867.4 3553.2,1871.0C3554.6,1874.7 3556.4,1878.1 3558.0,1880.7C3559.7,1883.3 3561.5,1885.4 3562.9,1886.8C3564.3,1888.1 3565.1,1888.7 3566.5,1889.0C3567.9,1889.2 3569.8,1888.6 3571.4,1888.5C3573.0,1888.3 3574.6,1887.7 3576.2,1888.0C3577.8,1888.2 3579.4,1889.2 3581.1,1889.9C3582.7,1890.7 3584.1,1891.8 3585.9,1892.3C3587.7,1892.9 3589.9,1893.4 3592.0,1893.3C3594.0,1893.2 3596.0,1892.3 3598.0,1891.6C3600.0,1890.9 3601.9,1889.8 3604.1,1889.2C3606.3,1888.6 3608.9,1888.8 3611.4,1888.0C3613.8,1887.2 3616.4,1886.2 3618.6,1884.4C3620.8,1882.5 3622.9,1879.7 3624.7,1877.1C3626.5,1874.5 3627.9,1871.1 3629.5,1868.6C3631.1,1866.1 3633.6,1862.9 3634.4,1861.8" fill="none" stroke="#00f" stroke-width="2" stroke-linejoin="round"/><rect x="3109.2" y="1752.3" width="551.1" height="149.0" fill="none" stroke="#000" stroke-width="1"/><line x1="3105.7" y1="1776.0" x2="3109.2" y2="1776.0" stroke="#000" stroke-width="1"/><text x="3100.6" y="1780.8" font-size="12.9" text-anchor="end">−0.5</text><line x1="3105.7" y1="1809.5" x2="3109.2" y2="1809.5" stroke="#000" stroke-width="1"/><text x="3100.6" y="1814.3" font-size="12.9" text-anchor="end">−0.6</text><line x1="3105.7" y1="1843.1" x2="3109.2" y2="1843.1" stroke="#000" stroke-width="1"/><text x="3100.6" y="1847.9" font-size="12.9" text-anchor="end">−0.7</text><line x1="3105.7" y1="1876.6" x2="3109.2" y2="1876.6" stroke="#000" stroke-width="1"/><text x="3100.6" y="1881.4" font-size="12.9" text-anchor="end">−0.8</text><line x1="3183.6" y1="1901.3" x2="3183.6" y2="1904.8" stroke="#000" stroke-width="1"/><text x="3183.6" y="1919.5" font-size="12.9" text-anchor="middle">−20</text><line x1="3285.4" y1="1901.3" x2="3285.4" y2="1904.8" stroke="#000" stroke-width="1"/><text x="3285.4" y="1919.5" font-size="12.9" text-anchor="middle">−10</text><line x1="3386.0" y1="1901.3" x2="3386.0" y2="1904.8" stroke="#000" stroke-width="1"/><text x="3386.0" y="1919.5" font-size="12.9" text-anchor="middle">0</text><line x1="3486.5" y1="1901.3" x2="3486.5" y2="1904.8" stroke="#000" stroke-width="1"/><text x="3486.5" y="1919.5" font-size="12.9" text-anchor="middle">10</text><line x1="3588.3" y1="1901.3" x2="3588.3" y2="1904.8" stroke="#000" stroke-width="1"/><text x="3588.3" y="1919.5" font-size="12.9" text-anchor="middle">20</text><text x="3362.0" y="1936.5" font-size="13.8" textLength="43" lengthAdjust="spacingAndGlyphs">z [mm]</text><text transform="translate(3056.5,1847.0) rotate(-90)" font-size="12" font-style="italic">u<tspan font-size="8.5" dy="2">i</tspan><tspan dy="-2" font-style="normal">/</tspan>u<tspan font-size="8.5" dy="2">i, max</tspan></text><rect x="3549.6" y="1758.3" width="104.2" height="72.7" rx="3" fill="#fff" fill-opacity="0.8" stroke="#ccc" stroke-width="1"/><line x1="3554.1" y1="1770.5" x2="3579.1" y2="1770.5" stroke="#000" stroke-width="1.8" stroke-dasharray="1.8,3"/><line x1="3554.1" y1="1794.3" x2="3579.1" y2="1794.3" stroke="#f00" stroke-width="1.8" stroke-dasharray="6.5,2.8"/><line x1="3554.1" y1="1817.8999999999999" x2="3579.1" y2="1817.8999999999999" stroke="#00f" stroke-width="1.8"/><text x="3588.6" y="1775.2" font-size="13.6" text-anchor="start" textLength="45.5" lengthAdjust="spacingAndGlyphs" >original</text><text x="3638.1" y="1775.2" font-size="13.6" font-style="italic">Z</text><text x="3588.6" y="1799.0" font-size="13.6" text-anchor="start" textLength="42.5" lengthAdjust="spacingAndGlyphs" >filtered</text><text x="3635.1" y="1799.0" font-size="13.6" font-style="italic">Z</text><text x="3638.3" y="1790.6" font-size="10.9">~</text><text x="3588.6" y="1822.6" font-size="13.6" text-anchor="start" textLength="38.0" lengthAdjust="spacingAndGlyphs" >output</text><text x="3630.6" y="1822.6" font-size="13.6" font-style="italic">Z</text><text x="3633.6" y="1815.5" font-size="10.9">^</text><polyline points="3135.1,2015.0 3137.8,2026.3 3142.1,2049.3 3145.8,2068.0 3149.3,2077.4 3152.0,2077.4 3155.4,2069.4 3159.2,2054.6 3163.5,2042.6 3168.8,2036.4 3173.4,2037.2 3177.9,2038.0 3182.8,2034.6 3188.1,2031.1 3193.5,2030.5 3198.8,2032.4 3204.2,2033.2 3210.9,2031.1 3217.6,2029.2 3222.9,2028.4 3228.3,2030.5 3233.7,2036.4 3239.0,2043.9 3243.8,2049.3 3247.1,2050.6 3251.1,2045.3 3255.1,2030.5 3259.1,2015.8 3262.6,2010.7 3265.8,2012.3 3269.8,2019.8 3275.2,2030.5 3280.5,2041.3 3285.9,2051.4 3289.4,2055.2 3292.6,2053.3 3296.6,2041.3 3300.6,2017.1 3304.6,1987.7 3308.7,1964.9 3311.9,1957.7 3314.6,1962.2 3318.0,1979.6 3322.1,2006.4 3326.1,2035.9 3330.1,2060.0 3333.3,2072.1 3336.0,2073.9 3338.7,2068.0 3342.1,2054.6 3346.2,2042.6 3350.2,2038.0 3354.2,2039.9 3359.6,2047.9 3364.9,2057.3 3369.7,2064.0 3373.5,2066.4 3377.8,2064.0 3383.7,2054.6 3390.4,2042.6 3397.1,2031.9 3403.8,2026.5 3410.4,2023.8 3417.1,2019.3 3422.5,2009.6 3426.5,2002.7 3430.5,2001.1 3434.6,2005.1 3437.8,2017.1 3441.3,2041.3 3443.9,2071.8 3447.1,2087.9 3451.2,2091.1 3455.2,2089.2 3459.2,2076.1 3462.7,2057.3 3466.2,2044.5 3469.4,2041.3 3473.4,2042.6 3477.4,2043.4 3482.2,2037.2 3486.8,2026.5 3490.8,2020.4 3494.8,2019.3 3498.8,2022.0 3502.9,2021.2 3506.9,2015.8 3510.9,2005.1 3514.9,1997.1 3518.1,1995.7 3521.6,2003.8 3525.1,2022.5 3528.3,2034.6 3531.5,2035.9 3535.0,2031.9 3537.7,2031.1 3538.0,2047.1 3541.2,2073.9 3544.1,2092.7 3548.4,2094.3 3551.1,2085.4 3555.1,2068.0 3559.1,2056.0 3563.1,2047.9 3567.1,2038.6 3571.2,2034.6 3575.2,2035.9 3580.5,2039.9 3584.6,2041.3 3589.9,2038.0 3595.3,2033.8 3600.6,2032.1 3606.0,2032.7 3611.3,2033.2 3616.7,2030.5 3622.1,2025.2 3628.8,2018.5 3634.1,2014.5 3637.6,2012.3" fill="none" stroke="#000" stroke-width="1.8" stroke-dasharray="1.8,3"/><path d="M3135.1,2041.3C3136.2,2042.5 3139.3,2046.9 3141.8,2048.5C3144.2,2050.0 3147.1,2050.8 3149.8,2050.6C3152.5,2050.4 3155.2,2048.6 3157.9,2047.1C3160.5,2045.7 3163.0,2043.5 3165.9,2041.8C3168.8,2040.1 3172.1,2038.3 3175.3,2037.0C3178.4,2035.6 3181.3,2035.0 3184.6,2033.8C3188.0,2032.5 3191.8,2030.8 3195.4,2029.7C3198.9,2028.7 3202.5,2027.7 3206.1,2027.6C3209.6,2027.5 3213.2,2028.0 3216.8,2028.9C3220.4,2029.9 3224.2,2031.6 3227.5,2033.2C3230.8,2034.8 3234.0,2037.4 3236.9,2038.6C3239.8,2039.8 3242.2,2040.8 3244.9,2040.4C3247.6,2040.1 3250.3,2037.9 3252.9,2036.4C3255.6,2035.0 3258.5,2032.7 3261.0,2031.6C3263.4,2030.5 3265.2,2029.9 3267.7,2030.0C3270.1,2030.1 3273.0,2031.3 3275.7,2032.4C3278.4,2033.5 3281.5,2035.5 3283.8,2036.4C3286.0,2037.3 3287.1,2038.4 3289.1,2037.8C3291.1,2037.1 3293.6,2035.1 3295.8,2032.4C3298.0,2029.7 3300.3,2024.8 3302.5,2021.7C3304.7,2018.6 3307.4,2015.3 3309.2,2013.7C3311.0,2012.0 3311.7,2011.6 3313.2,2011.8C3314.8,2012.0 3316.6,2012.7 3318.6,2015.0C3320.6,2017.3 3323.0,2022.1 3325.3,2025.7C3327.5,2029.3 3329.7,2033.8 3332.0,2036.4C3334.2,2039.1 3336.2,2040.7 3338.7,2041.8C3341.1,2042.9 3344.0,2042.7 3346.7,2043.1C3349.4,2043.6 3352.1,2043.3 3354.7,2044.5C3357.4,2045.6 3360.1,2048.1 3362.8,2049.8C3365.4,2051.5 3368.4,2053.8 3370.8,2054.6C3373.3,2055.5 3375.0,2056.0 3377.5,2055.2C3380.0,2054.4 3382.9,2052.5 3385.5,2049.8C3388.2,2047.1 3390.9,2042.5 3393.6,2039.1C3396.3,2035.8 3398.9,2032.1 3401.6,2029.7C3404.3,2027.4 3407.0,2026.1 3409.6,2025.2C3412.3,2024.3 3415.0,2024.2 3417.7,2024.4C3420.4,2024.6 3423.0,2024.9 3425.7,2026.3C3428.4,2027.6 3431.1,2029.6 3433.8,2032.4C3436.4,2035.2 3439.1,2039.9 3441.8,2043.1C3444.5,2046.4 3447.1,2050.0 3449.8,2052.0C3452.5,2054.0 3455.2,2055.3 3457.9,2055.2C3460.5,2055.0 3463.2,2052.9 3465.9,2051.2C3468.6,2049.5 3471.3,2046.9 3473.9,2045.0C3476.6,2043.1 3479.3,2041.1 3482.0,2039.6C3484.6,2038.2 3487.3,2037.8 3490.0,2036.4C3492.7,2035.1 3495.4,2033.3 3498.0,2031.6C3500.7,2029.9 3503.4,2027.8 3506.1,2026.3C3508.8,2024.7 3511.4,2023.3 3514.1,2022.5C3516.8,2021.7 3519.7,2021.4 3522.1,2021.7C3524.6,2022.0 3526.6,2022.8 3528.8,2024.4C3531.1,2025.9 3533.1,2027.9 3535.5,2031.1C3538.0,2034.2 3540.9,2039.9 3543.6,2043.1C3546.3,2046.3 3549.2,2048.8 3551.6,2050.4C3554.1,2051.9 3556.1,2052.7 3558.3,2052.5C3560.5,2052.3 3562.5,2050.6 3565.0,2049.3C3567.5,2047.9 3570.4,2045.9 3573.0,2044.5C3575.7,2043.0 3578.4,2041.8 3581.1,2040.4C3583.8,2039.1 3586.4,2037.5 3589.1,2036.4C3591.8,2035.3 3594.5,2034.0 3597.1,2033.8C3599.8,2033.5 3602.5,2034.7 3605.2,2035.1C3607.9,2035.4 3610.5,2036.2 3613.2,2035.9C3615.9,2035.6 3618.6,2033.7 3621.3,2033.2C3623.9,2032.8 3626.8,2032.9 3629.3,2033.2C3631.7,2033.5 3634.9,2034.8 3636.0,2035.1" fill="none" stroke="#f00" stroke-width="2" stroke-dasharray="7,3"/><path d="M3135.1,2024.4C3135.5,2025.5 3136.7,2026.8 3137.8,2031.1C3138.8,2035.3 3140.0,2043.6 3141.3,2049.8C3142.5,2056.1 3143.8,2063.9 3145.0,2068.6C3146.2,2073.3 3147.5,2076.4 3148.5,2077.9C3149.5,2079.5 3150.1,2079.3 3151.2,2077.9C3152.2,2076.6 3153.4,2073.7 3154.6,2069.9C3155.8,2066.1 3157.1,2059.6 3158.4,2055.2C3159.7,2050.7 3161.1,2046.2 3162.7,2043.1C3164.3,2040.1 3166.4,2037.9 3168.0,2037.0C3169.7,2036.1 3171.1,2037.5 3172.6,2037.8C3174.1,2038.0 3175.6,2039.0 3177.1,2038.6C3178.7,2038.1 3180.3,2036.3 3182.0,2035.1C3183.7,2033.9 3185.5,2032.3 3187.3,2031.6C3189.1,2030.9 3190.9,2030.8 3192.7,2031.1C3194.5,2031.3 3196.3,2032.5 3198.0,2032.9C3199.8,2033.4 3201.4,2034.0 3203.4,2033.8C3205.4,2033.5 3207.9,2032.3 3210.1,2031.6C3212.3,2030.9 3214.8,2030.2 3216.8,2029.7C3218.8,2029.3 3220.4,2028.7 3222.1,2028.9C3223.9,2029.2 3225.7,2029.7 3227.5,2031.1C3229.3,2032.4 3231.1,2034.7 3232.9,2037.0C3234.6,2039.2 3236.5,2042.3 3238.2,2044.5C3239.9,2046.6 3241.7,2048.7 3243.0,2049.8C3244.4,2050.9 3245.0,2051.8 3246.3,2051.2C3247.5,2050.5 3248.9,2049.2 3250.3,2045.8C3251.6,2042.5 3252.9,2036.0 3254.3,2031.1C3255.6,2026.2 3257.1,2019.6 3258.3,2016.3C3259.6,2013.0 3260.7,2011.8 3261.8,2011.3C3262.9,2010.7 3263.8,2011.3 3265.0,2012.9C3266.2,2014.4 3267.5,2017.3 3269.0,2020.4C3270.6,2023.4 3272.6,2027.5 3274.4,2031.1C3276.2,2034.6 3277.9,2038.3 3279.7,2041.8C3281.5,2045.3 3283.6,2049.6 3285.1,2052.0C3286.6,2054.3 3287.5,2055.4 3288.6,2055.7C3289.7,2056.0 3290.6,2056.2 3291.8,2053.8C3293.0,2051.5 3294.5,2047.8 3295.8,2041.8C3297.1,2035.8 3298.5,2026.6 3299.8,2017.7C3301.2,2008.8 3302.5,1996.9 3303.8,1988.2C3305.2,1979.5 3306.7,1970.4 3307.9,1965.4C3309.1,1960.4 3310.1,1958.7 3311.1,1958.2C3312.1,1957.8 3312.7,1959.1 3313.8,1962.8C3314.8,1966.4 3316.0,1972.8 3317.2,1980.2C3318.5,1987.5 3319.9,1997.6 3321.3,2007.0C3322.6,2016.3 3323.9,2027.5 3325.3,2036.4C3326.6,2045.4 3328.1,2054.5 3329.3,2060.5C3330.5,2066.6 3331.5,2070.3 3332.5,2072.6C3333.5,2074.9 3334.3,2075.1 3335.2,2074.5C3336.1,2073.8 3336.8,2071.8 3337.9,2068.6C3338.9,2065.4 3340.1,2059.4 3341.3,2055.2C3342.6,2050.9 3344.0,2045.9 3345.4,2043.1C3346.7,2040.4 3348.0,2039.0 3349.4,2038.6C3350.7,2038.1 3351.8,2038.8 3353.4,2040.4C3355.0,2042.1 3357.0,2045.6 3358.8,2048.5C3360.5,2051.4 3362.4,2055.2 3364.1,2057.9C3365.8,2060.5 3367.5,2063.0 3368.9,2064.6C3370.4,2066.1 3371.3,2067.0 3372.7,2067.0C3374.0,2067.0 3375.3,2066.5 3377.0,2064.6C3378.7,2062.6 3380.8,2058.8 3382.9,2055.2C3385.0,2051.6 3387.3,2046.9 3389.6,2043.1C3391.8,2039.3 3394.0,2035.1 3396.3,2032.4C3398.5,2029.7 3400.7,2028.4 3402.9,2027.1C3405.2,2025.7 3407.4,2025.6 3409.6,2024.4C3411.9,2023.2 3414.3,2022.2 3416.3,2019.8C3418.4,2017.5 3420.1,2012.9 3421.7,2010.2C3423.3,2007.4 3424.4,2004.6 3425.7,2003.2C3427.1,2001.8 3428.4,2001.2 3429.7,2001.6C3431.1,2002.0 3432.5,2002.9 3433.8,2005.6C3435.0,2008.3 3435.9,2011.7 3437.0,2017.7C3438.1,2023.7 3439.3,2033.3 3440.5,2041.8C3441.6,2050.3 3442.8,2061.4 3443.9,2068.6C3445.0,2075.7 3445.9,2081.4 3447.1,2084.6C3448.4,2087.9 3449.8,2087.6 3451.2,2087.9C3452.5,2088.1 3454.0,2087.9 3455.2,2086.0C3456.4,2084.1 3457.3,2081.3 3458.4,2076.6C3459.5,2071.9 3460.7,2063.1 3461.9,2057.9C3463.0,2052.6 3464.2,2047.7 3465.4,2045.0C3466.5,2042.3 3467.4,2042.1 3468.6,2041.8C3469.8,2041.5 3471.3,2042.8 3472.6,2043.1C3473.9,2043.5 3475.1,2044.8 3476.6,2043.9C3478.1,2043.0 3479.9,2040.6 3481.4,2037.8C3483.0,2035.0 3484.6,2029.9 3486.0,2027.1C3487.4,2024.2 3488.7,2022.1 3490.0,2020.9C3491.3,2019.7 3492.7,2019.6 3494.0,2019.8C3495.4,2020.1 3496.7,2022.2 3498.0,2022.5C3499.4,2022.8 3500.7,2022.7 3502.1,2021.7C3503.4,2020.7 3504.7,2019.0 3506.1,2016.3C3507.4,2013.7 3508.8,2008.8 3510.1,2005.6C3511.4,2002.5 3512.9,1999.2 3514.1,1997.6C3515.3,1996.0 3516.2,1995.1 3517.3,1996.3C3518.4,1997.4 3519.6,1999.8 3520.8,2004.3C3522.0,2008.8 3523.2,2017.9 3524.3,2023.0C3525.4,2028.2 3526.4,2032.9 3527.5,2035.1C3528.6,2037.3 3529.6,2036.9 3530.7,2036.4C3531.8,2036.0 3533.2,2033.2 3534.2,2032.4C3535.2,2031.6 3536.0,2029.2 3536.9,2031.6C3537.8,2034.1 3538.6,2040.1 3539.6,2047.1C3540.5,2054.2 3541.7,2066.3 3542.8,2073.9C3543.8,2081.5 3544.9,2089.2 3545.7,2092.7C3546.5,2096.2 3546.8,2095.9 3547.6,2094.8C3548.4,2093.7 3549.2,2090.4 3550.3,2086.0C3551.4,2081.6 3553.0,2073.5 3554.3,2068.6C3555.6,2063.7 3557.0,2059.9 3558.3,2056.5C3559.6,2053.2 3561.0,2051.4 3562.3,2048.5C3563.7,2045.6 3565.0,2041.3 3566.3,2039.1C3567.7,2036.9 3569.0,2035.5 3570.4,2035.1C3571.7,2034.6 3572.8,2035.5 3574.4,2036.4C3575.9,2037.3 3578.2,2039.6 3579.7,2040.4C3581.3,2041.3 3582.2,2042.1 3583.8,2041.8C3585.3,2041.5 3587.3,2039.8 3589.1,2038.6C3590.9,2037.3 3592.7,2035.3 3594.5,2034.3C3596.3,2033.3 3598.0,2032.9 3599.8,2032.7C3601.6,2032.5 3603.4,2033.0 3605.2,2033.2C3607.0,2033.4 3608.8,2034.1 3610.5,2033.8C3612.3,2033.4 3614.1,2032.4 3615.9,2031.1C3617.7,2029.7 3619.2,2027.7 3621.3,2025.7C3623.3,2023.7 3625.9,2020.8 3628.0,2019.0C3630.0,2017.2 3631.8,2016.0 3633.3,2015.0C3634.8,2014.0 3636.2,2013.2 3636.8,2012.9" fill="none" stroke="#00f" stroke-width="2" stroke-linejoin="round"/><rect x="3110.4" y="1949.4" width="551.0" height="152.9" fill="none" stroke="#000" stroke-width="1"/><line x1="3106.9" y1="1960.4" x2="3110.4" y2="1960.4" stroke="#000" stroke-width="1"/><text x="3102.0" y="1965.2" font-size="12.9" text-anchor="end">200</text><line x1="3106.9" y1="1998.7" x2="3110.4" y2="1998.7" stroke="#000" stroke-width="1"/><text x="3102.0" y="2003.5" font-size="12.9" text-anchor="end">100</text><line x1="3106.9" y1="2037.0" x2="3110.4" y2="2037.0" stroke="#000" stroke-width="1"/><text x="3102.0" y="2041.8" font-size="12.9" text-anchor="end">0</text><line x1="3106.9" y1="2074.7" x2="3110.4" y2="2074.7" stroke="#000" stroke-width="1"/><text x="3102.0" y="2079.5" font-size="12.9" text-anchor="end">−100</text><line x1="3186.5" y1="2102.3" x2="3186.5" y2="2105.8" stroke="#000" stroke-width="1"/><text x="3186.5" y="2120.8" font-size="12.9" text-anchor="middle">−20</text><line x1="3287.0" y1="2102.3" x2="3287.0" y2="2105.8" stroke="#000" stroke-width="1"/><text x="3287.0" y="2120.8" font-size="12.9" text-anchor="middle">−10</text><line x1="3387.4" y1="2102.3" x2="3387.4" y2="2105.8" stroke="#000" stroke-width="1"/><text x="3387.4" y="2120.8" font-size="12.9" text-anchor="middle">0</text><line x1="3487.9" y1="2102.3" x2="3487.9" y2="2105.8" stroke="#000" stroke-width="1"/><text x="3487.9" y="2120.8" font-size="12.9" text-anchor="middle">10</text><line x1="3588.6" y1="2102.3" x2="3588.6" y2="2105.8" stroke="#000" stroke-width="1"/><text x="3588.6" y="2120.8" font-size="12.9" text-anchor="middle">20</text><text x="3364.0" y="2137.7" font-size="13.8" textLength="43" lengthAdjust="spacingAndGlyphs">z [mm]</text><text transform="translate(3059.5,2061.0) rotate(-90)" font-size="12.5">∇[<tspan font-style="italic">u</tspan><tspan font-size="8.5" dy="2" font-style="italic">i</tspan><tspan dy="-2">/</tspan><tspan font-style="italic">u</tspan><tspan font-size="8.5" dy="2" font-style="italic">i, max</tspan><tspan dy="-2">]</tspan></text><rect x="3550.3" y="1956.1" width="104.4" height="75.5" rx="3" fill="#fff" fill-opacity="0.8" stroke="#ccc" stroke-width="1"/><line x1="3554.8" y1="1968.3" x2="3579.8" y2="1968.3" stroke="#000" stroke-width="1.8" stroke-dasharray="1.8,3"/><line x1="3554.8" y1="1992.1" x2="3579.8" y2="1992.1" stroke="#f00" stroke-width="1.8" stroke-dasharray="6.5,2.8"/><line x1="3554.8" y1="2015.6999999999998" x2="3579.8" y2="2015.6999999999998" stroke="#00f" stroke-width="1.8"/><text x="3589.3" y="1973.0" font-size="13.6" text-anchor="start" textLength="45.5" lengthAdjust="spacingAndGlyphs" >original</text><text x="3638.8" y="1973.0" font-size="13.6" font-style="italic">Z</text><text x="3589.3" y="1996.8" font-size="13.6" text-anchor="start" textLength="42.5" lengthAdjust="spacingAndGlyphs" >filtered</text><text x="3635.8" y="1996.8" font-size="13.6" font-style="italic">Z</text><text x="3639.0" y="1988.4" font-size="10.9">~</text><text x="3589.3" y="2020.4" font-size="13.6" text-anchor="start" textLength="38.0" lengthAdjust="spacingAndGlyphs" >output</text><text x="3631.3" y="2020.4" font-size="13.6" font-style="italic">Z</text><text x="3634.3" y="2013.3" font-size="10.9">^</text></svg>
<svg style="left:3577px;top:2302.7px" width="213.00" height="213.00" viewBox="0 0 29 29" shape-rendering="crispEdges"><path fill="#000" d="M0,0h7v1h-7zM8,0h1v1h-1zM11,0h1v1h-1zM13,0h2v1h-2zM18,0h1v1h-1zM20,0h1v1h-1zM22,0h7v1h-7zM0,1h1v1h-1zM6,1h1v1h-1zM8,1h1v1h-1zM12,1h2v1h-2zM19,1h1v1h-1zM22,1h1v1h-1zM28,1h1v1h-1zM0,2h1v1h-1zM2,2h3v1h-3zM6,2h1v1h-1zM8,2h3v1h-3zM12,2h1v1h-1zM14,2h2v1h-2zM18,2h3v1h-3zM22,2h1v1h-1zM24,2h3v1h-3zM28,2h1v1h-1zM0,3h1v1h-1zM2,3h3v1h-3zM6,3h1v1h-1zM13,3h5v1h-5zM19,3h2v1h-2zM22,3h1v1h-1zM24,3h3v1h-3zM28,3h1v1h-1zM0,4h1v1h-1zM2,4h3v1h-3zM6,4h1v1h-1zM9,4h1v1h-1zM11,4h1v1h-1zM13,4h2v1h-2zM16,4h1v1h-1zM18,4h2v1h-2zM22,4h1v1h-1zM24,4h3v1h-3zM28,4h1v1h-1zM0,5h1v1h-1zM6,5h1v1h-1zM8,5h1v1h-1zM10,5h2v1h-2zM13,5h1v1h-1zM16,5h1v1h-1zM18,5h1v1h-1zM20,5h1v1h-1zM22,5h1v1h-1zM28,5h1v1h-1zM0,6h7v1h-7zM8,6h1v1h-1zM10,6h1v1h-1zM12,6h1v1h-1zM14,6h1v1h-1zM16,6h1v1h-1zM18,6h1v1h-1zM20,6h1v1h-1zM22,6h7v1h-7zM8,7h1v1h-1zM11,7h2v1h-2zM14,7h3v1h-3zM2,8h3v1h-3zM6,8h1v1h-1zM8,8h2v1h-2zM11,8h3v1h-3zM15,8h1v1h-1zM18,8h6v1h-6zM26,8h3v1h-3zM1,9h4v1h-4zM9,9h1v1h-1zM11,9h1v1h-1zM14,9h2v1h-2zM21,9h1v1h-1zM24,9h1v1h-1zM28,9h1v1h-1zM1,10h9v1h-9zM12,10h1v1h-1zM14,10h3v1h-3zM18,10h1v1h-1zM20,10h7v1h-7zM0,11h1v1h-1zM2,11h3v1h-3zM7,11h1v1h-1zM11,11h1v1h-1zM13,11h5v1h-5zM21,11h3v1h-3zM27,11h1v1h-1zM0,12h2v1h-2zM3,12h8v1h-8zM12,12h1v1h-1zM21,12h1v1h-1zM23,12h1v1h-1zM26,12h3v1h-3zM0,13h1v1h-1zM2,13h1v1h-1zM4,13h1v1h-1zM7,13h3v1h-3zM11,13h2v1h-2zM14,13h9v1h-9zM24,13h2v1h-2zM27,13h2v1h-2zM0,14h2v1h-2zM3,14h1v1h-1zM6,14h1v1h-1zM9,14h1v1h-1zM12,14h7v1h-7zM20,14h1v1h-1zM22,14h2v1h-2zM1,15h2v1h-2zM4,15h1v1h-1zM8,15h3v1h-3zM18,15h1v1h-1zM21,15h2v1h-2zM24,15h2v1h-2zM27,15h1v1h-1zM0,16h1v1h-1zM2,16h1v1h-1zM4,16h1v1h-1zM6,16h1v1h-1zM12,16h3v1h-3zM22,16h1v1h-1zM25,16h3v1h-3zM0,17h1v1h-1zM2,17h4v1h-4zM8,17h5v1h-5zM15,17h2v1h-2zM18,17h1v1h-1zM20,17h2v1h-2zM23,17h6v1h-6zM0,18h1v1h-1zM2,18h1v1h-1zM6,18h2v1h-2zM10,18h1v1h-1zM13,18h1v1h-1zM16,18h1v1h-1zM18,18h2v1h-2zM22,18h2v1h-2zM26,18h1v1h-1zM0,19h1v1h-1zM2,19h1v1h-1zM5,19h1v1h-1zM8,19h5v1h-5zM14,19h1v1h-1zM16,19h1v1h-1zM18,19h3v1h-3zM22,19h2v1h-2zM25,19h1v1h-1zM27,19h2v1h-2zM0,20h1v1h-1zM3,20h1v1h-1zM6,20h1v1h-1zM8,20h1v1h-1zM12,20h1v1h-1zM14,20h1v1h-1zM16,20h1v1h-1zM18,20h7v1h-7zM26,20h2v1h-2zM8,21h1v1h-1zM15,21h3v1h-3zM20,21h1v1h-1zM24,21h2v1h-2zM28,21h1v1h-1zM0,22h7v1h-7zM9,22h1v1h-1zM13,22h3v1h-3zM19,22h2v1h-2zM22,22h1v1h-1zM24,22h1v1h-1zM0,23h1v1h-1zM6,23h1v1h-1zM11,23h3v1h-3zM15,23h1v1h-1zM18,23h3v1h-3zM24,23h2v1h-2zM27,23h1v1h-1zM0,24h1v1h-1zM2,24h3v1h-3zM6,24h1v1h-1zM8,24h3v1h-3zM14,24h1v1h-1zM20,24h9v1h-9zM0,25h1v1h-1zM2,25h3v1h-3zM6,25h1v1h-1zM8,25h2v1h-2zM11,25h1v1h-1zM13,25h2v1h-2zM17,25h5v1h-5zM23,25h1v1h-1zM0,26h1v1h-1zM2,26h3v1h-3zM6,26h1v1h-1zM8,26h2v1h-2zM12,26h1v1h-1zM14,26h4v1h-4zM19,26h9v1h-9zM0,27h1v1h-1zM6,27h1v1h-1zM11,27h4v1h-4zM19,27h1v1h-1zM21,27h1v1h-1zM24,27h2v1h-2zM27,27h1v1h-1zM0,28h7v1h-7zM10,28h1v1h-1zM12,28h2v1h-2zM16,28h3v1h-3zM24,28h1v1h-1zM26,28h1v1h-1z"/></svg>
</body></html>
